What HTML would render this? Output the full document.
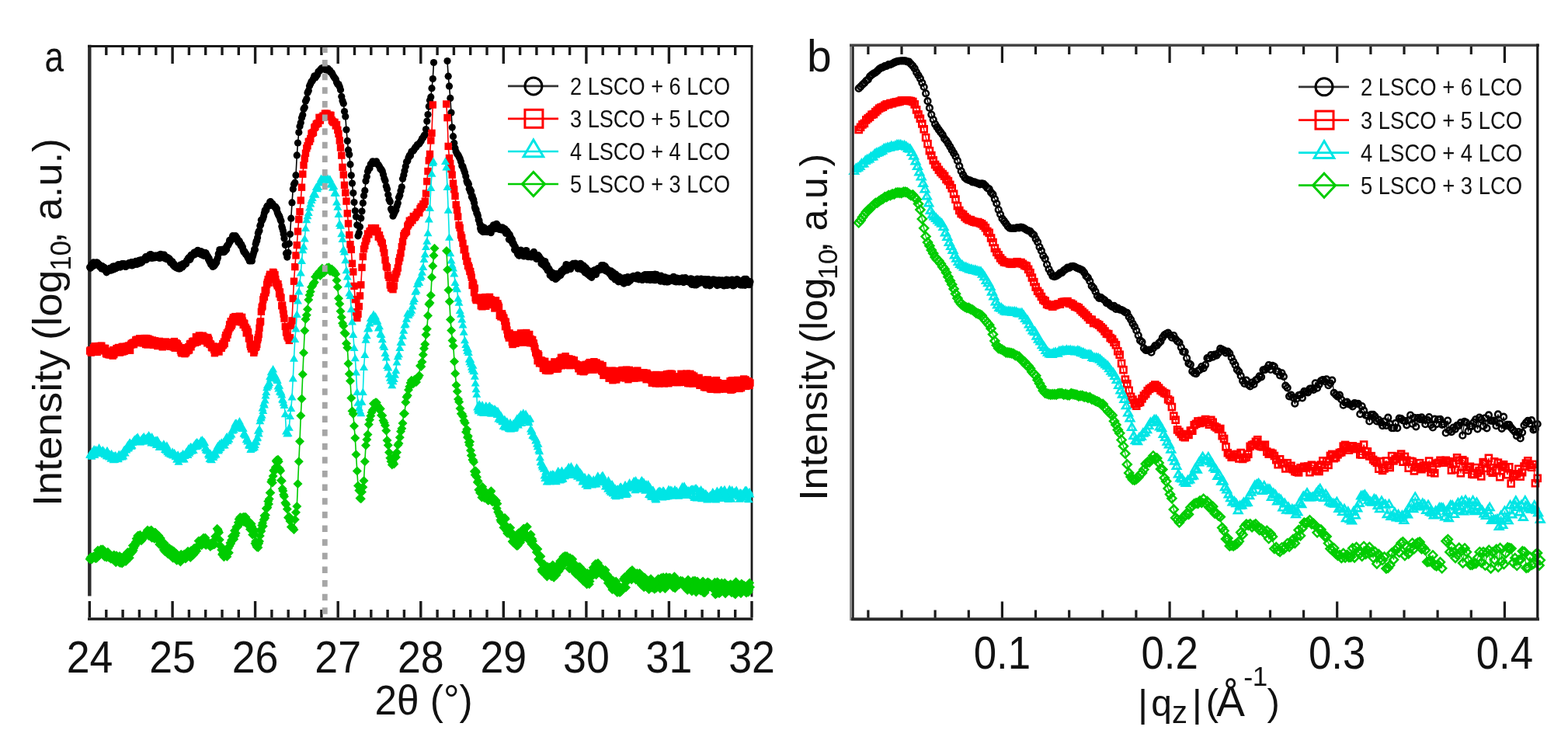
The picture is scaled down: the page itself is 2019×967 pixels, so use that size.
<!DOCTYPE html>
<html><head><meta charset="utf-8"><title>XRD / XRR</title>
<style>
html,body{margin:0;padding:0;background:#fff;}
svg{display:block;}
text{font-family:"Liberation Sans",Arial,sans-serif;fill:#111;}
.ka{fill:none;stroke:#000;stroke-width:1.6;marker-start:url(#mak);marker-mid:url(#mak);marker-end:url(#mak);}
.ra{fill:none;stroke:#f00;stroke-width:1.6;marker-start:url(#mar);marker-mid:url(#mar);marker-end:url(#mar);}
.ca{fill:none;stroke:#00e5e5;stroke-width:1.6;marker-start:url(#mac);marker-mid:url(#mac);marker-end:url(#mac);}
.ga{fill:none;stroke:#00cc00;stroke-width:1.6;marker-start:url(#mag);marker-mid:url(#mag);marker-end:url(#mag);}
.kb{fill:none;stroke:#000;stroke-width:1.2;marker-start:url(#mbk);marker-mid:url(#mbk);marker-end:url(#mbk);}
.rb{fill:none;stroke:#f00;stroke-width:1.2;marker-start:url(#mbr);marker-mid:url(#mbr);marker-end:url(#mbr);}
.cb{fill:none;stroke:#00e5e5;stroke-width:1.2;marker-start:url(#mbc);marker-mid:url(#mbc);marker-end:url(#mbc);}
.gb{fill:none;stroke:#00cc00;stroke-width:1.2;marker-start:url(#mbg);marker-mid:url(#mbg);marker-end:url(#mbg);}
</style></head><body>
<svg width="2019" height="967" viewBox="0 0 2019 967">
<defs>
<marker id="mak" markerUnits="userSpaceOnUse" markerWidth="20" markerHeight="20" refX="10" refY="10" overflow="visible"><circle cx="10" cy="10" r="4.6" fill="#000"/></marker>
<marker id="mar" markerUnits="userSpaceOnUse" markerWidth="20" markerHeight="20" refX="10" refY="10" overflow="visible"><rect x="5.3" y="5.3" width="9.4" height="9.4" fill="#f00"/></marker>
<marker id="mac" markerUnits="userSpaceOnUse" markerWidth="20" markerHeight="20" refX="10" refY="10" overflow="visible"><path d="M10 4.5 L15.5 14 L4.5 14 Z" fill="#00e5e5"/></marker>
<marker id="mag" markerUnits="userSpaceOnUse" markerWidth="20" markerHeight="20" refX="10" refY="10" overflow="visible"><path d="M10 4 L16 10 L10 16 L4 10 Z" fill="#00cc00"/></marker>
<marker id="mbk" markerUnits="userSpaceOnUse" markerWidth="20" markerHeight="20" refX="10" refY="10" overflow="visible"><circle cx="10" cy="10" r="3.8" fill="none" stroke="#000" stroke-width="2.6"/></marker>
<marker id="mbr" markerUnits="userSpaceOnUse" markerWidth="20" markerHeight="20" refX="10" refY="10" overflow="visible"><rect x="6" y="6" width="8" height="8" fill="none" stroke="#f00" stroke-width="2.6"/></marker>
<marker id="mbc" markerUnits="userSpaceOnUse" markerWidth="20" markerHeight="20" refX="10" refY="10" overflow="visible"><path d="M10 5 L15.2 13.8 L4.8 13.8 Z" fill="none" stroke="#00e5e5" stroke-width="2.6"/></marker>
<marker id="mbg" markerUnits="userSpaceOnUse" markerWidth="20" markerHeight="20" refX="10" refY="10" overflow="visible"><path d="M10 4.5 L15.5 10 L10 15.5 L4.5 10 Z" fill="none" stroke="#00cc00" stroke-width="2.5"/></marker>
</defs>
<rect width="2019" height="967" fill="#fff"/>

<g stroke="#1a1a1a" fill="none">
<line x1="115.3" y1="57.8" x2="115.3" y2="767.5" stroke-width="4.4" stroke="#2b2b2b"/>
<line x1="113" y1="59.5" x2="969.4" y2="59.5" stroke-width="3"/>
<line x1="968" y1="58" x2="968" y2="768.4" stroke-width="2.8"/>
<line x1="113" y1="797" x2="969.4" y2="797" stroke-width="3.6"/>
<line x1="115.3" y1="795" x2="115.3" y2="774" stroke-width="3.4"/>
<line x1="136.8" y1="61" x2="136.8" y2="71" stroke-width="3.4"/>
<line x1="136.8" y1="795" x2="136.8" y2="785" stroke-width="3.4"/>
<line x1="158.1" y1="61" x2="158.1" y2="71" stroke-width="3.4"/>
<line x1="158.1" y1="795" x2="158.1" y2="785" stroke-width="3.4"/>
<line x1="179.4" y1="61" x2="179.4" y2="71" stroke-width="3.4"/>
<line x1="179.4" y1="795" x2="179.4" y2="785" stroke-width="3.4"/>
<line x1="200.8" y1="61" x2="200.8" y2="71" stroke-width="3.4"/>
<line x1="200.8" y1="795" x2="200.8" y2="785" stroke-width="3.4"/>
<line x1="222.1" y1="61" x2="222.1" y2="82" stroke-width="3.4"/>
<line x1="222.1" y1="795" x2="222.1" y2="774" stroke-width="3.4"/>
<line x1="243.4" y1="61" x2="243.4" y2="71" stroke-width="3.4"/>
<line x1="243.4" y1="795" x2="243.4" y2="785" stroke-width="3.4"/>
<line x1="264.7" y1="61" x2="264.7" y2="71" stroke-width="3.4"/>
<line x1="264.7" y1="795" x2="264.7" y2="785" stroke-width="3.4"/>
<line x1="286.0" y1="61" x2="286.0" y2="71" stroke-width="3.4"/>
<line x1="286.0" y1="795" x2="286.0" y2="785" stroke-width="3.4"/>
<line x1="307.3" y1="61" x2="307.3" y2="71" stroke-width="3.4"/>
<line x1="307.3" y1="795" x2="307.3" y2="785" stroke-width="3.4"/>
<line x1="328.6" y1="61" x2="328.6" y2="82" stroke-width="3.4"/>
<line x1="328.6" y1="795" x2="328.6" y2="774" stroke-width="3.4"/>
<line x1="349.9" y1="61" x2="349.9" y2="71" stroke-width="3.4"/>
<line x1="349.9" y1="795" x2="349.9" y2="785" stroke-width="3.4"/>
<line x1="371.2" y1="61" x2="371.2" y2="71" stroke-width="3.4"/>
<line x1="371.2" y1="795" x2="371.2" y2="785" stroke-width="3.4"/>
<line x1="392.6" y1="61" x2="392.6" y2="71" stroke-width="3.4"/>
<line x1="392.6" y1="795" x2="392.6" y2="785" stroke-width="3.4"/>
<line x1="413.9" y1="61" x2="413.9" y2="71" stroke-width="3.4"/>
<line x1="413.9" y1="795" x2="413.9" y2="785" stroke-width="3.4"/>
<line x1="435.2" y1="61" x2="435.2" y2="82" stroke-width="3.4"/>
<line x1="435.2" y1="795" x2="435.2" y2="774" stroke-width="3.4"/>
<line x1="456.5" y1="61" x2="456.5" y2="71" stroke-width="3.4"/>
<line x1="456.5" y1="795" x2="456.5" y2="785" stroke-width="3.4"/>
<line x1="477.8" y1="61" x2="477.8" y2="71" stroke-width="3.4"/>
<line x1="477.8" y1="795" x2="477.8" y2="785" stroke-width="3.4"/>
<line x1="499.1" y1="61" x2="499.1" y2="71" stroke-width="3.4"/>
<line x1="499.1" y1="795" x2="499.1" y2="785" stroke-width="3.4"/>
<line x1="520.4" y1="61" x2="520.4" y2="71" stroke-width="3.4"/>
<line x1="520.4" y1="795" x2="520.4" y2="785" stroke-width="3.4"/>
<line x1="541.8" y1="61" x2="541.8" y2="82" stroke-width="3.4"/>
<line x1="541.8" y1="795" x2="541.8" y2="774" stroke-width="3.4"/>
<line x1="563.1" y1="61" x2="563.1" y2="71" stroke-width="3.4"/>
<line x1="563.1" y1="795" x2="563.1" y2="785" stroke-width="3.4"/>
<line x1="584.4" y1="61" x2="584.4" y2="71" stroke-width="3.4"/>
<line x1="584.4" y1="795" x2="584.4" y2="785" stroke-width="3.4"/>
<line x1="605.7" y1="61" x2="605.7" y2="71" stroke-width="3.4"/>
<line x1="605.7" y1="795" x2="605.7" y2="785" stroke-width="3.4"/>
<line x1="627.0" y1="61" x2="627.0" y2="71" stroke-width="3.4"/>
<line x1="627.0" y1="795" x2="627.0" y2="785" stroke-width="3.4"/>
<line x1="648.3" y1="61" x2="648.3" y2="82" stroke-width="3.4"/>
<line x1="648.3" y1="795" x2="648.3" y2="774" stroke-width="3.4"/>
<line x1="669.6" y1="61" x2="669.6" y2="71" stroke-width="3.4"/>
<line x1="669.6" y1="795" x2="669.6" y2="785" stroke-width="3.4"/>
<line x1="690.9" y1="61" x2="690.9" y2="71" stroke-width="3.4"/>
<line x1="690.9" y1="795" x2="690.9" y2="785" stroke-width="3.4"/>
<line x1="712.3" y1="61" x2="712.3" y2="71" stroke-width="3.4"/>
<line x1="712.3" y1="795" x2="712.3" y2="785" stroke-width="3.4"/>
<line x1="733.6" y1="61" x2="733.6" y2="71" stroke-width="3.4"/>
<line x1="733.6" y1="795" x2="733.6" y2="785" stroke-width="3.4"/>
<line x1="754.9" y1="61" x2="754.9" y2="82" stroke-width="3.4"/>
<line x1="754.9" y1="795" x2="754.9" y2="774" stroke-width="3.4"/>
<line x1="776.2" y1="61" x2="776.2" y2="71" stroke-width="3.4"/>
<line x1="776.2" y1="795" x2="776.2" y2="785" stroke-width="3.4"/>
<line x1="797.5" y1="61" x2="797.5" y2="71" stroke-width="3.4"/>
<line x1="797.5" y1="795" x2="797.5" y2="785" stroke-width="3.4"/>
<line x1="818.8" y1="61" x2="818.8" y2="71" stroke-width="3.4"/>
<line x1="818.8" y1="795" x2="818.8" y2="785" stroke-width="3.4"/>
<line x1="840.1" y1="61" x2="840.1" y2="71" stroke-width="3.4"/>
<line x1="840.1" y1="795" x2="840.1" y2="785" stroke-width="3.4"/>
<line x1="861.4" y1="61" x2="861.4" y2="82" stroke-width="3.4"/>
<line x1="861.4" y1="795" x2="861.4" y2="774" stroke-width="3.4"/>
<line x1="882.7" y1="61" x2="882.7" y2="71" stroke-width="3.4"/>
<line x1="882.7" y1="795" x2="882.7" y2="785" stroke-width="3.4"/>
<line x1="904.1" y1="61" x2="904.1" y2="71" stroke-width="3.4"/>
<line x1="904.1" y1="795" x2="904.1" y2="785" stroke-width="3.4"/>
<line x1="925.4" y1="61" x2="925.4" y2="71" stroke-width="3.4"/>
<line x1="925.4" y1="795" x2="925.4" y2="785" stroke-width="3.4"/>
<line x1="946.7" y1="61" x2="946.7" y2="71" stroke-width="3.4"/>
<line x1="946.7" y1="795" x2="946.7" y2="785" stroke-width="3.4"/>
<line x1="968.0" y1="795" x2="968.0" y2="774" stroke-width="3.4"/>
</g>
<polyline class="ka" points="115.6,344.0 116.4,345.3 117.2,343.9 118.0,340.4 118.8,340.3 119.6,342.8 120.4,337.8 121.2,341.7 122.0,341.3 122.8,339.4 123.6,338.4 124.4,338.2 125.2,338.0 126.0,339.2 126.8,339.9 127.6,340.6 128.4,343.6 129.2,343.2 130.0,343.1 130.8,345.9 131.6,342.7 132.4,343.3 133.2,346.5 134.0,344.3 134.8,344.9 135.6,348.0 136.4,348.2 137.2,350.8 138.0,349.4 138.8,348.7 139.6,348.5 140.4,346.9 141.2,345.4 142.0,346.0 142.8,348.2 143.6,345.2 144.4,345.6 145.2,343.2 146.0,347.1 146.8,343.1 147.6,343.2 148.4,346.0 149.2,343.7 150.0,345.1 150.8,343.8 151.6,344.1 152.4,340.5 153.2,342.7 154.0,342.4 154.8,344.1 155.6,341.3 156.4,342.4 157.2,339.5 158.0,341.0 158.8,340.6 159.6,339.6 160.4,342.9 161.2,340.5 162.0,343.5 162.8,341.3 163.6,341.3 164.4,341.3 165.2,341.4 166.0,338.5 166.8,339.8 167.6,338.6 168.4,339.3 169.2,337.5 170.0,341.9 170.8,337.8 171.6,340.0 172.4,337.8 173.2,340.6 174.0,339.3 174.8,336.4 175.6,339.9 176.4,340.2 177.2,339.8 178.0,337.8 178.8,335.4 179.6,335.4 180.4,339.0 181.2,336.7 182.0,334.5 182.8,337.8 183.6,336.1 184.4,335.3 185.2,333.9 186.0,333.6 186.8,332.2 187.6,330.7 188.4,334.6 189.2,332.0 190.0,332.0 190.8,330.4 191.6,332.3 192.4,328.2 193.2,329.7 194.0,327.7 194.8,328.1 195.6,332.4 196.4,330.8 197.2,329.6 198.0,330.1 198.8,331.9 199.6,329.2 200.4,330.5 201.2,331.0 202.0,329.2 202.8,330.1 203.6,331.4 204.4,332.1 205.2,328.2 206.0,332.3 206.8,327.4 207.6,331.3 208.4,331.6 209.2,328.1 210.0,329.7 210.8,332.0 211.6,328.2 212.4,331.8 213.2,333.1 214.0,332.1 214.8,333.8 215.6,331.7 216.4,332.1 217.2,333.5 218.0,333.0 218.8,334.4 219.6,338.2 220.4,337.0 221.2,336.5 222.0,337.0 222.8,341.3 223.6,339.5 224.4,343.1 225.2,341.5 226.0,342.2 226.8,344.8 227.6,344.5 228.4,344.0 229.2,343.5 230.0,346.0 230.8,343.5 231.6,345.9 232.4,341.1 233.2,342.6 234.0,342.5 234.8,344.1 235.6,339.7 236.4,341.9 237.2,340.4 238.0,339.9 238.8,338.7 239.6,339.7 240.4,335.7 241.2,335.4 242.0,333.6 242.8,331.9 243.6,331.8 244.4,334.5 245.2,333.1 246.0,328.3 246.8,329.9 247.6,328.3 248.4,328.0 249.2,327.6 250.0,325.0 250.8,327.8 251.6,324.8 252.4,325.3 253.2,325.2 254.0,322.9 254.8,322.3 255.6,324.2 256.4,326.2 257.2,326.7 258.0,326.4 258.8,323.5 259.6,328.0 260.4,327.7 261.2,328.4 262.0,327.0 262.8,329.4 263.6,325.3 264.4,325.6 265.2,326.1 266.0,328.3 266.8,329.4 267.6,330.5 268.4,334.0 269.2,332.8 270.0,337.2 270.8,336.5 271.6,340.4 272.4,337.9 273.2,340.0 274.0,343.5 274.8,341.3 275.6,342.4 276.4,341.1 277.2,340.2 278.0,337.2 278.8,338.1 279.6,334.0 280.4,331.9 281.2,327.0 282.0,326.0 282.8,321.5 283.6,322.8 284.4,322.5 285.2,321.4 286.0,323.9 286.8,324.7 287.6,322.0 288.4,324.6 289.2,323.9 290.0,319.7 290.8,322.0 291.6,321.3 292.4,316.2 293.2,316.6 294.0,315.3 294.8,313.6 295.6,309.4 296.4,311.0 297.2,309.3 298.0,308.6 298.8,307.1 299.6,303.7 300.4,305.7 301.2,306.6 302.0,307.2 302.8,303.9 303.6,303.9 304.4,307.9 305.2,306.5 306.0,309.2 306.8,312.1 307.6,310.1 308.4,310.7 309.2,313.3 310.0,316.0 310.8,314.8 311.6,317.9 312.4,318.1 313.2,322.2 314.0,324.6 314.8,323.7 315.6,325.2 316.4,327.6 317.2,327.4 318.0,329.0 318.8,330.7 319.6,332.6 320.4,331.6 321.2,335.9 322.0,335.6 322.8,334.5 323.6,333.3 324.4,335.9 325.2,330.7 326.0,328.1 326.8,324.9 327.6,321.0 328.4,321.5 329.2,314.3 330.0,310.8 330.8,310.1 331.6,305.9 332.4,300.3 333.2,298.0 334.0,296.9 334.8,290.8 335.6,289.4 336.4,283.3 337.2,284.2 338.0,282.5 338.8,280.7 339.6,277.9 340.4,274.3 341.2,270.8 342.0,271.3 342.8,270.8 343.6,266.2 344.4,265.0 345.2,265.1 346.0,265.0 346.8,264.8 347.6,260.0 348.4,259.7 349.2,262.6 350.0,261.8 350.8,262.5 351.6,264.5 352.4,265.1 353.2,265.8 354.0,266.8 354.8,266.3 355.6,269.3 356.4,268.7 357.2,273.6 358.0,275.5 358.8,277.3 359.6,277.9 360.4,280.2 361.2,283.2 362.0,284.8 362.8,291.6 363.6,294.0 364.4,297.1 365.2,301.6 366.0,307.1 367.3,315.4 368.5,326.2 369.8,331.1 371.0,325.3 372.3,313.8 373.5,301.6 374.8,281.2 376.0,260.9 377.3,243.4 378.5,237.3 379.8,235.2 381.0,225.7 382.3,199.9 383.5,184.0 384.8,170.5 386.0,162.8 387.3,157.9 388.5,151.8 389.8,147.9 391.0,140.5 392.3,138.3 393.5,130.2 394.8,127.4 396.0,119.6 397.3,116.7 398.5,110.7 399.8,108.1 401.0,105.0 402.3,104.1 403.5,101.2 404.8,97.8 406.0,100.0 407.3,98.0 408.5,96.6 409.8,92.4 411.0,91.8 412.3,90.0 413.5,88.7 414.8,87.5 416.0,88.9 417.3,87.0 418.5,87.1 419.8,90.0 421.0,88.9 422.3,88.3 423.5,91.3 424.8,90.8 426.0,93.2 427.3,93.8 428.5,96.5 429.8,98.8 431.0,100.4 432.3,102.0 433.5,105.9 434.8,108.5 436.0,108.5 437.3,111.7 438.5,115.8 439.8,124.3 441.0,129.7 442.3,133.2 443.5,143.6 444.8,149.9 446.0,167.0 447.3,181.4 448.5,193.2 449.8,199.1 451.0,211.7 452.3,225.8 453.5,236.1 454.8,248.6 456.0,260.5 457.3,271.5 458.5,279.0 459.8,289.8 461.0,303.8 462.3,300.0 463.5,292.0 464.8,280.9 466.0,272.0 467.3,261.4 468.5,252.1 469.8,245.4 471.0,233.1 472.3,227.5 473.5,220.8 474.8,216.8 476.0,216.8 477.3,211.3 478.5,211.0 479.8,207.8 481.0,210.5 482.3,208.4 483.5,209.4 484.8,207.9 486.0,211.2 487.3,212.4 488.5,214.2 489.8,217.7 491.0,217.9 492.3,220.4 493.5,224.8 494.8,229.7 496.0,232.7 497.3,239.7 498.5,243.6 499.8,250.7 501.0,257.1 502.3,259.7 503.5,269.0 504.8,271.6 506.0,278.2 507.3,275.4 508.5,272.8 509.8,270.5 511.0,265.4 512.3,261.5 513.5,254.2 514.8,251.5 516.0,245.8 517.3,240.8 518.5,230.3 519.8,225.4 521.0,219.9 522.3,214.3 523.5,208.4 524.8,207.3 526.0,202.9 527.3,200.1 528.5,200.6 529.8,195.6 531.0,194.6 532.3,193.9 533.5,191.9 534.8,189.7 536.0,189.3 537.3,186.5 538.5,185.8 539.8,185.3 541.0,183.2 542.3,181.4 543.5,178.6 544.8,177.3 546.0,174.7 547.3,173.4 548.5,166.5 549.8,156.1 551.0,147.5 552.3,137.1 553.5,129.3 554.8,124.9 556.0,113.7 557.3,101.5 558.5,80.5"/>
<polyline class="ka" points="576.0,78.5 577.2,98.2 578.5,110.9 579.8,126.4 581.0,145.0 582.2,164.1 583.5,175.7 584.8,184.3 586.0,190.8 587.2,195.2 588.5,197.9 589.8,199.3 591.0,201.8 592.2,204.3 593.5,207.9 594.8,213.6 596.0,214.4 597.2,218.6 598.5,222.1 599.8,227.0 601.0,233.1 601.8,235.5 602.6,235.2 603.4,237.2 604.2,243.3 605.0,243.5 605.8,247.3 606.6,246.0 607.4,253.6 608.2,252.6 609.0,256.4 609.8,257.1 610.6,261.2 611.4,266.8 612.2,269.5 613.0,269.7 613.8,274.6 614.6,275.3 615.4,278.1 616.2,283.1 617.0,284.0 617.8,288.2 618.6,294.1 619.4,296.5 620.2,291.4 621.0,297.5 621.8,298.6 622.6,295.9 623.4,293.0 624.2,298.5 625.0,295.0 625.8,298.5 626.6,296.4 627.4,298.6 628.2,295.5 629.0,297.2 629.8,297.3 630.6,297.8 631.4,293.8 632.2,299.7 633.0,293.4 633.8,293.0 634.6,292.0 635.4,289.8 636.2,292.2 637.0,294.7 637.8,293.7 638.6,289.1 639.4,288.3 640.2,289.8 641.0,293.6 641.8,291.4 642.6,295.3 643.4,293.5 644.2,293.6 645.0,295.4 645.8,295.9 646.6,293.2 647.4,293.2 648.2,295.4 649.0,296.7 649.8,294.6 650.6,297.9 651.4,300.4 652.2,297.0 653.0,297.9 653.8,299.2 654.6,301.2 655.4,308.3 656.2,301.9 657.0,304.7 657.8,306.2 658.6,310.5 659.4,308.3 660.2,313.8 661.0,313.0 661.8,315.5 662.6,321.4 663.4,317.8 664.2,322.7 665.0,322.1 665.8,323.2 666.6,327.3 667.4,322.4 668.2,329.1 669.0,328.9 669.8,327.2 670.6,322.1 671.4,327.3 672.2,326.9 673.0,328.4 673.8,323.7 674.6,330.0 675.4,329.5 676.2,323.0 677.0,324.8 677.8,322.5 678.6,329.2 679.4,330.0 680.2,330.7 681.0,327.6 681.8,328.1 682.6,328.3 683.4,327.5 684.2,330.9 685.0,328.2 685.8,326.2 686.6,328.0 687.4,324.3 688.2,330.7 689.0,330.9 689.8,329.1 690.6,333.3 691.4,333.1 692.2,330.2 693.0,328.7 693.8,329.9 694.6,331.0 695.4,332.7 696.2,334.7 697.0,339.4 697.8,334.7 698.6,340.6 699.4,339.5 700.2,341.8 701.0,338.9 701.8,336.6 702.6,344.3 703.4,340.9 704.2,341.3 705.0,348.1 705.8,348.5 706.6,345.8 707.4,347.5 708.2,354.4 709.0,349.9 709.8,354.6 710.6,350.8 711.4,357.4 712.2,352.2 713.0,356.1 713.8,352.4 714.6,356.9 715.4,359.4 716.2,352.7 717.0,354.0 717.8,357.6 718.6,355.7 719.4,352.5 720.2,354.3 721.0,352.0 721.8,354.6 722.6,348.9 723.4,351.8 724.2,349.9 725.0,349.9 725.8,346.0 726.6,348.2 727.4,347.3 728.2,344.1 729.0,340.6 729.8,348.1 730.6,345.8 731.4,341.4 732.2,345.7 733.0,341.8 733.8,343.3 734.6,346.4 735.4,342.8 736.2,341.4 737.0,341.4 737.8,339.4 738.6,340.5 739.4,340.9 740.2,340.0 741.0,339.0 741.8,342.3 742.6,340.2 743.4,344.6 744.2,346.1 745.0,340.6 745.8,343.1 746.6,342.6 747.4,339.3 748.2,340.1 749.0,346.9 749.8,344.1 750.6,347.5 751.4,342.1 752.2,347.3 753.0,350.4 753.8,351.3 754.6,344.9 755.4,350.0 756.2,349.5 757.0,353.5 757.8,348.4 758.6,350.5 759.4,355.6 760.2,353.0 761.0,353.0 761.8,357.3 762.6,351.7 763.4,349.0 764.2,351.4 765.0,348.9 765.8,347.6 766.6,350.9 767.4,353.4 768.2,349.5 769.0,349.2 769.8,345.7 770.6,347.1 771.4,347.9 772.2,346.0 773.0,347.3 773.8,344.8 774.6,341.6 775.4,344.8 776.2,344.2 777.0,341.7 777.8,345.9 778.6,348.1 779.4,342.9 780.2,347.0 781.0,349.3 781.8,347.3 782.6,346.9 783.4,348.5 784.2,350.7 785.0,352.6 785.8,352.1 786.6,348.8 787.4,355.4 788.2,356.8 789.0,350.6 789.8,352.4 790.6,352.4 791.4,358.7 792.2,359.9 793.0,353.2 793.8,356.3 794.6,355.7 795.4,358.5 796.2,362.8 797.0,356.1 797.8,357.4 798.6,360.4 799.4,361.0 800.2,363.0 801.0,360.6 801.8,358.1 802.6,359.9 803.4,365.1 804.2,363.1 805.0,357.7 805.8,363.5 806.6,359.2 807.4,363.0 808.2,356.5 809.0,363.6 809.8,357.5 810.6,359.8 811.4,361.4 812.2,359.9 813.0,356.9 813.8,356.5 814.6,357.5 815.4,355.4 816.2,356.6 817.0,355.7 817.8,358.3 818.6,357.3 819.4,359.0 820.2,356.3 821.0,354.0 821.8,356.4 822.6,359.8 823.4,355.4 824.2,356.5 825.0,359.3 825.8,356.3 826.6,360.2 827.4,360.4 828.2,355.2 829.0,358.7 829.8,354.5 830.6,353.5 831.4,356.0 832.2,357.4 833.0,360.2 833.8,353.5 834.6,358.3 835.4,356.3 836.2,353.5 837.0,360.6 837.8,358.3 838.6,353.6 839.4,360.2 840.2,353.5 841.0,353.5 841.8,355.6 842.6,360.7 843.4,353.2 844.2,360.7 845.0,358.2 845.8,353.7 846.6,358.1 847.4,357.2 848.2,358.2 849.0,359.8 849.8,359.4 850.6,362.2 851.4,355.2 852.2,360.8 853.0,357.6 853.8,360.8 854.6,361.8 855.4,362.8 856.2,356.8 857.0,358.4 857.8,362.7 858.6,362.8 859.4,358.1 860.2,362.9 861.0,358.5 861.8,358.4 862.6,361.7 863.4,359.3 864.2,359.2 865.0,358.8 865.8,359.3 866.6,356.9 867.4,356.3 868.2,362.2 869.0,360.7 869.8,361.7 870.6,362.9 871.4,358.2 872.2,358.3 873.0,358.7 873.8,359.0 874.6,363.0 875.4,359.8 876.2,359.5 877.0,362.2 877.8,358.5 878.6,357.9 879.4,363.0 880.2,363.6 881.0,359.8 881.8,362.7 882.6,357.7 883.4,360.9 884.2,362.5 885.0,359.8 885.8,360.7 886.6,363.0 887.4,362.9 888.2,359.3 889.0,364.0 889.8,358.8 890.6,366.3 891.4,360.0 892.2,360.5 893.0,360.1 893.8,366.8 894.6,360.9 895.4,363.6 896.2,366.9 897.0,366.6 897.8,359.1 898.6,363.1 899.4,363.9 900.2,364.8 901.0,361.7 901.8,361.7 902.6,359.1 903.4,359.4 904.2,363.8 905.0,359.8 905.8,360.9 906.6,362.1 907.4,359.9 908.2,359.6 909.0,367.2 909.8,363.1 910.6,361.2 911.4,365.5 912.2,359.7 913.0,361.7 913.8,367.8 914.6,367.3 915.4,365.1 916.2,360.6 917.0,362.5 917.8,360.1 918.6,361.7 919.4,360.1 920.2,361.0 921.0,365.3 921.8,360.8 922.6,361.3 923.4,367.6 924.2,362.8 925.0,362.8 925.8,360.7 926.6,366.7 927.4,365.7 928.2,364.6 929.0,365.2 929.8,360.8 930.6,362.2 931.4,364.9 932.2,368.0 933.0,366.8 933.8,365.3 934.6,364.3 935.4,360.1 936.2,367.4 937.0,360.5 937.8,361.0 938.6,365.7 939.4,366.7 940.2,366.5 941.0,363.6 941.8,361.3 942.6,360.1 943.4,366.9 944.2,367.9 945.0,361.8 945.8,367.0 946.6,363.0 947.4,362.2 948.2,363.8 949.0,359.6 949.8,363.2 950.6,361.2 951.4,365.4 952.2,363.6 953.0,366.7 953.8,366.9 954.6,362.0 955.4,361.6 956.2,367.1 957.0,363.4 957.8,359.9 958.6,359.4 959.4,367.3 960.2,363.8 961.0,359.3 961.8,363.1 962.6,363.0 963.4,362.4 964.2,366.6 965.0,366.6 966.0,362.7"/>
<polyline class="ra" points="115.6,452.0 116.4,450.8 117.2,454.1 118.0,452.0 118.8,452.6 119.6,451.0 120.4,447.7 121.2,452.6 122.0,445.7 122.8,451.3 123.6,447.0 124.4,449.2 125.2,453.4 126.0,449.6 126.8,445.6 127.6,448.6 128.4,450.6 129.2,445.5 130.0,447.1 130.8,445.2 131.6,449.7 132.4,448.5 133.2,449.9 134.0,448.5 134.8,451.9 135.6,448.4 136.4,455.0 137.2,456.0 138.0,452.6 138.8,452.8 139.6,456.6 140.4,452.2 141.2,456.9 142.0,452.8 142.8,456.6 143.6,453.4 144.4,455.6 145.2,458.1 146.0,450.6 146.8,456.6 147.6,454.0 148.4,452.2 149.2,451.5 150.0,448.7 150.8,449.8 151.6,452.4 152.4,447.5 153.2,451.8 154.0,453.9 154.8,453.7 155.6,452.7 156.4,451.8 157.2,446.4 158.0,453.0 158.8,446.4 159.6,452.0 160.4,452.0 161.2,449.8 162.0,448.9 162.8,446.1 163.6,448.8 164.4,446.7 165.2,445.3 166.0,445.2 166.8,450.6 167.6,451.2 168.4,444.0 169.2,442.3 170.0,443.6 170.8,441.6 171.6,441.2 172.4,443.6 173.2,441.3 174.0,440.5 174.8,437.8 175.6,440.9 176.4,437.2 177.2,437.6 178.0,437.8 178.8,441.4 179.6,435.9 180.4,439.9 181.2,436.5 182.0,441.5 182.8,437.5 183.6,438.5 184.4,441.8 185.2,440.3 186.0,435.6 186.8,436.2 187.6,443.5 188.4,435.6 189.2,438.1 190.0,443.9 190.8,436.1 191.6,437.5 192.4,438.1 193.2,437.2 194.0,440.6 194.8,441.7 195.6,439.6 196.4,438.0 197.2,444.0 198.0,444.1 198.8,442.3 199.6,438.8 200.4,442.4 201.2,443.3 202.0,441.7 202.8,445.5 203.6,441.6 204.4,442.7 205.2,439.4 206.0,443.2 206.8,444.9 207.6,444.6 208.4,440.7 209.2,446.8 210.0,444.5 210.8,442.1 211.6,442.0 212.4,445.0 213.2,440.0 214.0,443.9 214.8,444.5 215.6,442.8 216.4,445.8 217.2,442.4 218.0,442.4 218.8,440.9 219.6,446.2 220.4,441.2 221.2,444.3 222.0,441.9 222.8,446.5 223.6,446.9 224.4,439.6 225.2,448.2 226.0,445.5 226.8,441.6 227.6,445.9 228.4,442.9 229.2,447.8 230.0,445.5 230.8,447.8 231.6,447.9 232.4,451.1 233.2,453.5 234.0,454.9 234.8,450.2 235.6,452.5 236.4,447.8 237.2,450.9 238.0,455.6 238.8,448.3 239.6,454.1 240.4,451.8 241.2,448.1 242.0,451.5 242.8,446.6 243.6,450.8 244.4,443.1 245.2,442.4 246.0,446.8 246.8,443.3 247.6,439.8 248.4,441.9 249.2,439.1 250.0,440.3 250.8,441.1 251.6,441.3 252.4,433.8 253.2,437.7 254.0,440.4 254.8,435.5 255.6,437.8 256.4,432.0 257.2,438.4 258.0,436.0 258.8,438.7 259.6,437.9 260.4,438.8 261.2,432.2 262.0,438.0 262.8,433.9 263.6,434.8 264.4,435.6 265.2,438.2 266.0,438.9 266.8,441.8 267.6,434.5 268.4,436.5 269.2,438.6 270.0,443.4 270.8,442.5 271.6,443.6 272.4,447.2 273.2,447.9 274.0,446.4 274.8,446.0 275.6,450.3 276.4,454.7 277.2,452.8 278.0,448.2 278.8,451.3 279.6,450.4 280.4,451.5 281.2,450.8 282.0,453.0 282.8,446.9 283.6,446.4 284.4,447.1 285.2,448.3 286.0,445.6 286.8,442.6 287.6,444.3 288.4,440.1 289.2,442.5 290.0,434.9 290.8,431.6 291.6,435.3 292.4,428.6 293.2,431.0 294.0,426.7 294.8,423.6 295.6,417.9 296.4,421.7 297.2,413.8 298.0,419.6 298.8,417.3 299.6,411.2 300.4,408.8 301.2,414.5 302.0,410.8 302.8,407.6 303.6,410.6 304.4,408.3 305.2,409.6 306.0,411.4 306.8,413.6 307.6,412.6 308.4,407.2 309.2,409.8 310.0,410.1 310.8,414.9 311.6,408.4 312.4,413.3 313.2,418.4 314.0,415.9 314.8,416.8 315.6,421.4 316.4,421.6 317.2,428.9 318.0,423.9 318.8,426.8 319.6,428.1 320.4,436.0 321.2,435.4 322.0,443.5 322.8,446.3 323.6,449.3 324.4,445.8 325.2,445.3 326.0,449.4 326.8,454.3 327.6,451.7 328.4,444.2 329.2,447.3 330.0,446.2 330.8,443.3 331.6,437.5 332.4,434.8 333.2,430.5 334.0,422.3 334.8,415.3 335.6,413.9 336.4,401.3 337.2,395.7 338.0,394.1 338.8,385.8 339.6,382.2 340.4,382.6 341.2,373.9 342.0,377.0 342.8,373.5 343.6,366.3 344.4,363.5 345.2,359.6 346.0,364.2 346.8,356.3 347.6,353.3 348.4,359.5 349.2,356.1 350.0,356.0 350.8,356.2 351.6,350.4 352.4,351.5 353.2,356.0 354.0,353.8 354.8,359.6 355.6,363.8 356.4,365.6 357.2,367.9 358.0,365.7 358.8,370.0 359.6,378.4 360.4,375.9 361.2,382.4 362.0,383.3 362.8,393.7 363.6,393.0 364.4,399.0 365.2,404.2 366.0,410.1 367.3,420.4 368.5,428.0 369.8,432.8 371.0,435.0 372.3,438.4 373.5,434.8 374.8,419.4 376.0,412.9 377.3,384.4 378.5,362.2 379.8,343.6 381.0,328.9 382.3,315.6 383.5,298.0 384.8,282.5 386.0,272.6 387.3,258.0 388.5,241.2 389.8,224.2 391.0,212.8 392.3,204.1 393.5,197.3 394.8,190.9 396.0,187.8 397.3,182.4 398.5,182.1 399.8,178.6 401.0,172.1 402.3,171.2 403.5,170.5 404.8,164.3 406.0,163.1 407.3,159.9 408.5,158.9 409.8,158.8 411.0,151.3 412.3,155.1 413.5,151.5 414.8,151.1 416.0,149.1 417.3,150.0 418.5,146.1 419.8,148.8 421.0,146.2 422.3,148.4 423.5,150.4 424.8,148.2 426.0,148.5 427.3,154.9 428.5,156.7 429.8,157.6 431.0,157.4 432.3,161.9 433.5,160.5 434.8,167.3 436.0,172.3 437.3,181.0 438.5,190.1 439.8,200.1 441.0,215.3 442.3,225.0 443.5,238.3 444.8,248.1 446.0,259.1 447.3,274.8 448.5,287.9 449.8,302.5 451.0,314.7 452.3,321.4 453.5,339.3 454.8,350.0 456.0,368.4 457.3,385.6 458.5,401.8 459.8,409.5 461.0,404.4 462.3,394.6 463.5,380.9 464.8,366.8 466.0,344.4 467.3,330.5 468.5,320.7 469.8,316.3 471.0,310.5 472.3,307.4 473.5,301.0 474.8,301.9 476.0,297.9 477.3,297.2 478.5,293.6 479.8,296.5 481.0,297.7 482.3,294.3 483.5,293.6 484.8,298.7 486.0,297.5 487.3,305.2 488.5,302.8 489.8,307.4 491.0,311.4 492.3,313.1 493.5,319.8 494.8,325.5 496.0,334.8 497.3,342.9 498.5,344.6 499.8,354.2 501.0,357.3 502.3,367.0 503.5,370.7 504.8,371.0 506.0,372.7 507.3,368.0 508.5,358.3 509.8,352.9 511.0,349.9 512.3,345.0 513.5,336.6 514.8,331.9 516.0,325.9 517.3,317.7 518.5,311.1 519.8,303.4 521.0,300.7 522.3,299.0 523.5,298.0 524.8,291.0 526.0,289.0 527.3,284.2 528.5,286.6 529.8,283.0 531.0,283.7 532.3,278.5 533.5,280.1 534.8,279.0 536.0,276.5 537.3,273.4 538.5,273.4 539.8,274.0 541.0,268.6 542.3,266.2 543.5,266.7 544.8,262.7 546.0,263.2 547.3,259.1 548.5,249.1 549.8,233.6 551.0,220.5 552.3,206.8 553.5,198.4 554.8,180.9 556.0,171.3 557.3,135.0"/>
<polyline class="ra" points="574.7,134.0 576.0,151.6 577.2,188.4 578.5,203.5 579.7,210.5 581.0,217.5 582.2,225.2 583.5,236.1 584.7,243.8 586.0,252.5 587.2,263.6 588.5,270.6 589.7,279.0 591.0,289.8 592.2,293.3 593.5,302.7 594.7,306.0 596.0,313.3 597.2,321.8 598.5,320.6 599.7,329.9 601.0,336.4 601.8,336.5 602.5,342.4 603.3,342.4 604.1,344.8 604.9,349.4 605.7,349.6 606.5,353.9 607.3,357.2 608.1,367.5 608.9,364.0 609.7,366.0 610.5,376.7 611.3,371.1 612.1,383.7 612.9,385.9 613.7,386.6 614.5,386.2 615.3,384.4 616.1,383.3 616.9,383.3 617.7,386.4 618.5,387.1 619.3,393.8 620.1,388.9 620.9,394.8 621.7,391.3 622.5,383.9 623.3,389.2 624.1,384.1 624.9,382.6 625.7,394.3 626.5,386.5 627.3,384.6 628.1,383.4 628.9,390.6 629.7,388.2 630.5,382.4 631.3,391.6 632.1,385.7 632.9,392.5 633.7,388.8 634.5,389.5 635.3,388.8 636.1,392.2 636.9,397.0 637.7,395.3 638.5,386.8 639.3,393.4 640.1,391.3 640.9,390.9 641.7,393.4 642.5,395.6 643.3,406.3 644.1,405.0 644.9,407.9 645.7,407.3 646.5,403.8 647.3,406.4 648.1,409.0 648.9,409.4 649.7,413.5 650.5,420.7 651.3,414.3 652.1,419.6 652.9,424.9 653.7,430.0 654.5,432.0 655.3,435.1 656.1,428.9 656.9,431.4 657.7,434.0 658.5,434.2 659.3,440.4 660.1,443.5 660.9,439.4 661.7,430.9 662.5,434.2 663.3,440.7 664.1,442.2 664.9,437.7 665.7,434.4 666.5,434.3 667.3,437.8 668.1,440.6 668.9,433.7 669.7,431.5 670.5,428.9 671.3,430.5 672.1,439.6 672.9,436.5 673.7,441.1 674.5,429.0 675.3,432.7 676.1,438.2 676.9,436.3 677.7,428.5 678.5,432.8 679.3,435.8 680.1,436.4 680.9,433.4 681.7,430.5 682.5,441.6 683.3,436.5 684.1,441.5 684.9,441.1 685.7,437.4 686.5,441.8 687.3,442.0 688.1,446.2 688.9,448.7 689.7,453.8 690.5,454.8 691.3,457.2 692.1,464.7 692.9,455.6 693.7,457.7 694.5,467.9 695.3,465.3 696.1,465.0 696.9,463.8 697.7,468.3 698.5,465.0 699.3,474.1 700.1,474.4 700.9,468.5 701.7,465.3 702.5,477.0 703.3,469.7 704.1,474.6 704.9,477.4 705.7,476.7 706.5,477.5 707.3,472.5 708.1,477.0 708.9,471.9 709.7,469.1 710.5,471.7 711.3,469.6 712.1,474.9 712.9,475.4 713.7,466.1 714.5,466.1 715.3,468.6 716.1,469.2 716.9,475.3 717.7,474.7 718.5,474.7 719.3,471.2 720.1,470.2 720.9,464.5 721.7,465.5 722.5,460.3 723.3,470.8 724.1,463.3 724.9,460.5 725.7,463.3 726.5,463.2 727.3,468.2 728.1,458.7 728.9,461.6 729.7,470.2 730.5,469.6 731.3,466.8 732.1,466.0 732.9,461.9 733.7,470.7 734.5,469.6 735.3,466.9 736.1,462.8 736.9,464.0 737.7,466.7 738.5,466.7 739.3,463.8 740.1,468.8 740.9,470.0 741.7,468.5 742.5,470.3 743.3,470.1 744.1,471.2 744.9,474.8 745.7,473.6 746.5,470.0 747.3,478.0 748.1,474.4 748.9,473.8 749.7,477.1 750.5,477.5 751.3,478.7 752.1,478.2 752.9,476.2 753.7,476.8 754.5,469.3 755.3,476.2 756.1,470.3 756.9,470.2 757.7,468.2 758.5,471.7 759.3,466.6 760.1,474.7 760.9,475.7 761.7,475.9 762.5,467.3 763.3,473.8 764.1,476.3 764.9,465.7 765.7,467.6 766.5,468.5 767.3,470.9 768.1,467.0 768.9,471.8 769.7,469.2 770.5,473.2 771.3,471.7 772.1,474.2 772.9,469.1 773.7,475.9 774.5,477.2 775.3,478.2 776.1,470.8 776.9,483.4 777.7,479.8 778.5,477.0 779.3,480.2 780.1,482.2 780.9,482.9 781.7,480.0 782.5,480.5 783.3,481.8 784.1,487.2 784.9,482.8 785.7,477.6 786.5,482.9 787.3,479.7 788.1,477.2 788.9,489.7 789.7,480.8 790.5,483.9 791.3,481.5 792.1,477.5 792.9,488.5 793.7,488.9 794.5,479.1 795.3,482.1 796.1,481.5 796.9,478.7 797.7,485.1 798.5,486.6 799.3,486.3 800.1,485.1 800.9,476.5 801.7,479.2 802.5,482.9 803.3,485.3 804.1,481.1 804.9,481.9 805.7,486.9 806.5,476.2 807.3,479.4 808.1,479.6 808.9,488.7 809.7,478.7 810.5,476.4 811.3,481.1 812.1,484.1 812.9,477.7 813.7,486.6 814.5,478.2 815.3,484.8 816.1,477.7 816.9,487.1 817.7,478.2 818.5,485.1 819.3,486.6 820.1,479.1 820.9,477.1 821.7,483.6 822.5,482.6 823.3,482.5 824.1,486.6 824.9,482.6 825.7,483.2 826.5,483.3 827.3,483.1 828.1,482.7 828.9,479.7 829.7,481.7 830.5,481.5 831.3,481.6 832.1,488.7 832.9,480.3 833.7,481.7 834.5,486.1 835.3,483.6 836.1,482.9 836.9,484.8 837.7,486.7 838.5,489.2 839.3,493.2 840.1,491.9 840.9,486.6 841.7,487.0 842.5,486.7 843.3,484.5 844.1,493.9 844.9,482.5 845.7,484.4 846.5,490.4 847.3,489.5 848.1,485.4 848.9,494.0 849.7,487.1 850.5,489.5 851.3,482.9 852.1,493.3 852.9,483.0 853.7,486.8 854.5,493.1 855.3,493.9 856.1,493.3 856.9,492.2 857.7,484.5 858.5,481.8 859.3,487.2 860.1,482.1 860.9,493.7 861.7,481.3 862.5,485.3 863.3,483.7 864.1,481.1 864.9,487.4 865.7,481.8 866.5,492.5 867.3,489.7 868.1,485.5 868.9,491.5 869.7,490.9 870.5,484.7 871.3,491.5 872.1,492.5 872.9,488.4 873.7,484.9 874.5,492.0 875.3,492.5 876.1,484.8 876.9,481.3 877.7,491.5 878.5,488.8 879.3,483.2 880.1,487.6 880.9,484.2 881.7,492.2 882.5,484.8 883.3,483.0 884.1,481.1 884.9,485.0 885.7,493.6 886.5,483.7 887.3,486.9 888.1,493.7 888.9,481.3 889.7,485.3 890.5,492.3 891.3,483.0 892.1,494.0 892.9,493.0 893.7,484.2 894.5,490.3 895.3,490.0 896.1,492.0 896.9,487.2 897.7,488.5 898.5,486.8 899.3,487.7 900.1,486.4 900.9,496.2 901.7,496.2 902.5,489.6 903.3,494.1 904.1,491.7 904.9,489.2 905.7,490.4 906.5,498.6 907.3,490.7 908.1,494.0 908.9,499.0 909.7,490.8 910.5,497.7 911.3,488.9 912.1,497.1 912.9,498.3 913.7,498.9 914.5,500.8 915.3,497.6 916.1,501.2 916.9,492.3 917.7,495.6 918.5,491.7 919.3,490.1 920.1,494.8 920.9,498.6 921.7,499.4 922.5,489.6 923.3,501.7 924.1,492.7 924.9,493.3 925.7,500.3 926.5,501.1 927.3,499.1 928.1,493.8 928.9,495.5 929.7,500.3 930.5,494.1 931.3,499.9 932.1,499.6 932.9,495.6 933.7,501.1 934.5,494.4 935.3,499.2 936.1,497.7 936.9,493.7 937.7,496.3 938.5,497.2 939.3,496.3 940.1,490.7 940.9,502.1 941.7,501.8 942.5,489.7 943.3,501.4 944.1,496.0 944.9,490.7 945.7,499.7 946.5,494.6 947.3,498.2 948.1,499.6 948.9,495.8 949.7,489.4 950.5,499.4 951.3,497.6 952.1,500.4 952.9,492.0 953.7,498.6 954.5,499.6 955.3,492.8 956.1,493.4 956.9,492.3 957.7,488.0 958.5,490.8 959.3,492.0 960.1,488.9 960.9,497.4 961.7,492.8 962.5,494.5 963.3,490.7 964.1,491.5 964.9,496.5 966.0,493.0"/>
<polyline class="ca" points="115.6,586.0 116.4,584.6 117.2,585.2 118.0,587.7 118.8,581.5 119.6,583.2 120.4,584.3 121.2,578.5 122.0,586.0 122.8,581.5 123.6,578.9 124.4,583.2 125.2,583.5 126.0,581.7 126.8,584.1 127.6,576.5 128.4,580.4 129.2,582.2 130.0,583.8 130.8,581.3 131.6,581.0 132.4,579.4 133.2,581.3 134.0,581.6 134.8,585.3 135.6,585.2 136.4,585.0 137.2,587.3 138.0,580.3 138.8,587.3 139.6,585.2 140.4,588.5 141.2,585.0 142.0,587.1 142.8,590.8 143.6,584.2 144.4,586.8 145.2,588.8 146.0,592.2 146.8,587.0 147.6,591.9 148.4,586.6 149.2,587.0 150.0,589.0 150.8,589.6 151.6,591.3 152.4,591.0 153.2,584.9 154.0,589.0 154.8,587.6 155.6,584.9 156.4,587.9 157.2,588.5 158.0,584.3 158.8,587.6 159.6,579.7 160.4,579.1 161.2,583.5 162.0,578.2 162.8,579.6 163.6,577.6 164.4,573.2 165.2,577.5 166.0,576.3 166.8,569.9 167.6,570.1 168.4,574.2 169.2,574.7 170.0,573.8 170.8,570.0 171.6,568.3 172.4,568.6 173.2,565.7 174.0,568.2 174.8,565.4 175.6,564.3 176.4,565.9 177.2,562.7 178.0,566.0 178.8,567.7 179.6,567.0 180.4,569.6 181.2,568.6 182.0,566.1 182.8,568.2 183.6,564.0 184.4,567.0 185.2,562.3 186.0,564.4 186.8,568.4 187.6,565.0 188.4,564.2 189.2,566.9 190.0,562.8 190.8,567.7 191.6,560.6 192.4,562.9 193.2,562.8 194.0,563.9 194.8,570.5 195.6,562.6 196.4,565.5 197.2,568.4 198.0,570.0 198.8,571.1 199.6,568.0 200.4,567.0 201.2,573.1 202.0,566.9 202.8,566.8 203.6,568.7 204.4,571.5 205.2,576.0 206.0,574.5 206.8,573.5 207.6,573.6 208.4,575.6 209.2,575.5 210.0,573.4 210.8,571.7 211.6,573.1 212.4,578.9 213.2,578.1 214.0,580.1 214.8,573.8 215.6,582.1 216.4,578.1 217.2,583.7 218.0,581.5 218.8,581.9 219.6,585.1 220.4,584.2 221.2,585.5 222.0,581.7 222.8,586.5 223.6,585.1 224.4,583.3 225.2,584.5 226.0,588.2 226.8,586.8 227.6,591.8 228.4,586.4 229.2,585.7 230.0,594.7 230.8,588.6 231.6,590.3 232.4,587.4 233.2,587.1 234.0,588.5 234.8,591.5 235.6,584.2 236.4,590.8 237.2,591.6 238.0,587.0 238.8,584.5 239.6,582.6 240.4,581.4 241.2,581.9 242.0,585.9 242.8,577.5 243.6,583.8 244.4,582.0 245.2,575.5 246.0,575.4 246.8,580.8 247.6,579.6 248.4,575.8 249.2,580.0 250.0,573.5 250.8,574.7 251.6,571.2 252.4,575.3 253.2,569.5 254.0,569.7 254.8,574.4 255.6,571.4 256.4,572.4 257.2,572.6 258.0,571.2 258.8,567.2 259.6,571.6 260.4,566.4 261.2,568.2 262.0,570.7 262.8,568.9 263.6,570.3 264.4,577.0 265.2,579.6 266.0,578.2 266.8,580.3 267.6,580.4 268.4,584.9 269.2,586.8 270.0,591.0 270.8,583.7 271.6,591.7 272.4,592.3 273.2,586.1 274.0,588.9 274.8,589.1 275.6,586.7 276.4,582.4 277.2,584.3 278.0,585.5 278.8,577.4 279.6,579.6 280.4,574.3 281.2,580.6 282.0,579.0 282.8,571.5 283.6,577.0 284.4,575.7 285.2,569.8 286.0,572.6 286.8,573.4 287.6,569.4 288.4,570.1 289.2,573.6 290.0,569.7 290.8,567.7 291.6,562.9 292.4,562.5 293.2,568.1 294.0,566.0 294.8,565.6 295.6,562.0 296.4,560.7 297.2,558.9 298.0,559.4 298.8,554.3 299.6,554.5 300.4,552.9 301.2,553.4 302.0,548.2 302.8,545.4 303.6,544.9 304.4,544.9 305.2,550.3 306.0,548.4 306.8,548.4 307.6,545.4 308.4,542.4 309.2,546.3 310.0,551.0 310.8,549.2 311.6,552.0 312.4,551.7 313.2,551.7 314.0,558.2 314.8,559.0 315.6,559.7 316.4,560.7 317.2,566.2 318.0,564.4 318.8,568.5 319.6,567.5 320.4,573.6 321.2,571.8 322.0,574.0 322.8,578.9 323.6,577.4 324.4,577.5 325.2,573.4 326.0,577.0 326.8,571.7 327.6,575.7 328.4,573.1 329.2,569.2 330.0,568.8 330.8,564.2 331.6,563.4 332.4,554.7 333.2,558.6 334.0,552.6 334.8,542.2 335.6,538.6 336.4,537.2 337.2,534.8 338.0,525.5 338.8,528.9 339.6,519.4 340.4,521.4 341.2,515.4 342.0,509.4 342.8,504.9 343.6,499.3 344.4,496.0 345.2,497.4 346.0,495.2 346.8,493.0 347.6,485.0 348.4,487.3 349.2,479.3 350.0,483.4 350.8,482.3 351.6,475.4 352.4,482.3 353.2,482.0 354.0,483.6 354.8,486.8 355.6,486.3 356.4,488.6 357.2,490.1 358.0,497.4 358.8,500.6 359.6,496.8 360.4,504.6 361.2,503.7 362.0,505.6 362.8,508.5 363.6,514.2 364.4,515.3 365.2,518.8 366.0,522.1 367.3,533.2 368.5,555.6 369.8,558.4 371.0,557.9 372.3,550.8 373.5,536.1 374.8,525.9 376.0,511.4 377.3,487.4 378.5,461.7 379.8,436.9 381.0,423.5 382.3,404.9 383.5,387.6 384.8,375.5 386.0,365.0 387.3,351.6 388.5,335.9 389.8,322.2 391.0,317.5 392.3,307.5 393.5,294.1 394.8,283.2 396.0,278.3 397.3,273.9 398.5,267.6 399.8,262.5 401.0,258.0 402.3,255.1 403.5,250.3 404.8,248.8 406.0,250.8 407.3,241.0 408.5,243.3 409.8,241.0 411.0,235.6 412.3,234.7 413.5,230.0 414.8,231.5 416.0,230.5 417.3,229.9 418.5,227.8 419.8,231.5 421.0,231.3 422.3,230.1 423.5,232.2 424.8,230.8 426.0,237.5 427.3,237.5 428.5,241.7 429.8,239.9 431.0,248.8 432.3,249.1 433.5,260.6 434.8,266.7 436.0,275.9 437.3,287.9 438.5,290.8 439.8,301.2 441.0,308.1 442.3,321.3 443.5,324.5 444.8,335.3 446.0,348.2 447.3,356.5 448.5,365.9 449.8,377.5 451.0,381.1 452.3,398.3 453.5,414.4 454.8,431.1 456.0,448.0 457.3,461.2 458.5,479.6 459.8,505.0 461.0,518.8 462.3,524.9 463.5,528.9 464.8,532.3 466.0,517.7 467.3,505.0 468.5,473.0 469.8,456.9 471.0,437.7 472.3,432.3 473.5,423.4 474.8,422.8 476.0,416.4 477.3,410.1 478.5,412.3 479.8,408.3 481.0,405.0 482.3,409.3 483.5,407.6 484.8,414.4 486.0,413.4 487.3,422.5 488.5,420.3 489.8,429.7 491.0,430.9 492.3,437.2 493.5,444.8 494.8,447.1 496.0,455.0 497.3,460.6 498.5,470.9 499.8,473.5 501.0,482.1 502.3,486.8 503.5,490.2 504.8,496.3 506.0,491.2 507.3,488.1 508.5,482.8 509.8,477.2 511.0,466.5 512.3,459.2 513.5,456.3 514.8,448.1 516.0,440.7 517.3,441.0 518.5,432.8 519.8,425.7 521.0,418.4 522.3,417.5 523.5,410.7 524.8,403.7 526.0,406.1 527.3,403.8 528.5,402.2 529.8,399.8 531.0,394.6 532.3,388.2 533.5,385.1 534.8,375.8 536.0,374.0 537.3,366.1 538.5,362.3 539.8,364.1 541.0,357.8 542.3,356.0 543.5,350.8 544.8,343.9 546.0,334.1 547.3,327.5 548.5,317.9 549.8,310.7 551.0,300.2 552.3,282.5 553.5,268.0 554.8,242.0 556.0,223.7 557.3,210.1 558.0,208.0"/>
<polyline class="ca" points="573.5,208.0 574.8,215.5 576.0,241.1 577.2,270.8 578.5,305.8 579.8,326.3 581.0,335.4 582.2,341.4 583.5,345.6 584.8,352.4 586.0,364.0 587.2,369.9 588.5,372.2 589.8,384.5 591.0,389.8 592.2,399.9 593.5,404.7 594.8,411.5 596.0,418.5 597.2,427.8 598.5,438.2 599.8,444.1 601.0,448.1 601.8,451.9 602.6,449.6 603.4,454.1 604.2,462.4 605.0,466.2 605.8,463.1 606.6,468.8 607.4,472.8 608.2,475.8 609.0,470.7 609.8,477.7 610.6,478.2 611.4,484.7 612.2,493.4 613.0,501.3 613.8,507.8 614.6,524.5 615.4,527.2 616.2,529.3 617.0,520.6 617.8,521.8 618.6,526.6 619.4,531.3 620.2,525.2 621.0,521.5 621.8,526.9 622.6,531.9 623.4,530.8 624.2,531.2 625.0,524.6 625.8,522.6 626.6,531.0 627.4,529.9 628.2,530.8 629.0,524.6 629.8,523.3 630.6,522.8 631.4,531.5 632.2,532.4 633.0,525.3 633.8,532.6 634.6,526.5 635.4,528.0 636.2,530.3 637.0,526.4 637.8,527.9 638.6,528.7 639.4,529.6 640.2,534.0 641.0,529.3 641.8,539.6 642.6,532.4 643.4,537.0 644.2,540.7 645.0,534.9 645.8,539.5 646.6,542.6 647.4,543.3 648.2,548.9 649.0,548.2 649.8,539.9 650.6,550.3 651.4,547.1 652.2,549.4 653.0,542.8 653.8,547.3 654.6,550.7 655.4,552.1 656.2,552.2 657.0,544.2 657.8,552.4 658.6,548.5 659.4,549.6 660.2,551.7 661.0,545.2 661.8,551.8 662.6,550.7 663.4,549.2 664.2,542.8 665.0,544.3 665.8,538.8 666.6,546.2 667.4,547.4 668.2,536.9 669.0,544.2 669.8,543.0 670.6,533.5 671.4,545.0 672.2,538.5 673.0,535.3 673.8,531.7 674.6,541.6 675.4,535.3 676.2,537.5 677.0,533.1 677.8,538.7 678.6,536.2 679.4,542.6 680.2,541.9 681.0,544.2 681.8,539.7 682.6,539.2 683.4,552.6 684.2,555.8 685.0,554.4 685.8,560.8 686.6,560.5 687.4,561.8 688.2,561.8 689.0,563.4 689.8,567.5 690.6,566.1 691.4,571.4 692.2,575.2 693.0,571.7 693.8,579.6 694.6,581.3 695.4,589.3 696.2,594.9 697.0,595.4 697.8,599.2 698.6,601.5 699.4,599.5 700.2,603.7 701.0,612.5 701.8,616.0 702.6,607.4 703.4,606.5 704.2,620.4 705.0,619.6 705.8,616.3 706.6,619.1 707.4,616.0 708.2,620.2 709.0,611.1 709.8,613.8 710.6,616.8 711.4,610.5 712.2,617.2 713.0,610.9 713.8,616.8 714.6,618.0 715.4,612.7 716.2,620.2 717.0,615.1 717.8,616.7 718.6,606.5 719.4,607.6 720.2,615.5 721.0,618.5 721.8,614.0 722.6,617.7 723.4,605.9 724.2,617.0 725.0,616.6 725.8,612.9 726.6,609.9 727.4,613.3 728.2,606.6 729.0,612.0 729.8,611.9 730.6,609.4 731.4,605.1 732.2,601.2 733.0,603.4 733.8,611.7 734.6,602.8 735.4,600.6 736.2,602.7 737.0,606.1 737.8,606.9 738.6,610.7 739.4,610.3 740.2,611.9 741.0,611.0 741.8,605.6 742.6,602.0 743.4,613.8 744.2,604.8 745.0,611.0 745.8,607.2 746.6,615.8 747.4,608.4 748.2,612.5 749.0,610.8 749.8,620.5 750.6,618.2 751.4,619.2 752.2,615.6 753.0,614.3 753.8,624.0 754.6,623.0 755.4,622.6 756.2,626.1 757.0,620.2 757.8,614.9 758.6,620.8 759.4,616.3 760.2,619.3 761.0,618.5 761.8,619.8 762.6,624.6 763.4,623.0 764.2,617.5 765.0,622.9 765.8,623.4 766.6,622.1 767.4,619.0 768.2,623.6 769.0,618.0 769.8,612.7 770.6,614.9 771.4,620.1 772.2,616.3 773.0,616.9 773.8,616.6 774.6,613.8 775.4,612.6 776.2,612.3 777.0,621.2 777.8,617.0 778.6,619.3 779.4,626.5 780.2,623.0 781.0,626.2 781.8,626.3 782.6,629.8 783.4,618.5 784.2,623.7 785.0,632.2 785.8,626.5 786.6,633.9 787.4,624.3 788.2,623.4 789.0,635.5 789.8,629.6 790.6,631.6 791.4,637.9 792.2,628.7 793.0,639.2 793.8,631.8 794.6,629.9 795.4,629.8 796.2,633.6 797.0,632.9 797.8,638.5 798.6,627.0 799.4,626.7 800.2,627.9 801.0,633.9 801.8,636.0 802.6,631.6 803.4,633.1 804.2,633.1 805.0,624.3 805.8,627.0 806.6,636.9 807.4,627.4 808.2,635.4 809.0,628.8 809.8,624.8 810.6,621.4 811.4,623.9 812.2,624.9 813.0,626.1 813.8,625.9 814.6,626.9 815.4,625.6 816.2,619.2 817.0,622.1 817.8,631.3 818.6,618.4 819.4,627.8 820.2,624.1 821.0,627.1 821.8,621.9 822.6,622.4 823.4,624.3 824.2,629.7 825.0,622.0 825.8,618.9 826.6,618.5 827.4,630.3 828.2,623.0 829.0,620.8 829.8,627.8 830.6,631.7 831.4,628.9 832.2,623.4 833.0,627.5 833.8,626.3 834.6,623.6 835.4,637.1 836.2,630.9 837.0,627.2 837.8,638.0 838.6,640.0 839.4,638.4 840.2,631.3 841.0,631.0 841.8,636.1 842.6,637.4 843.4,641.8 844.2,643.4 845.0,643.0 845.8,635.5 846.6,639.0 847.4,632.9 848.2,638.3 849.0,632.1 849.8,632.7 850.6,632.7 851.4,635.1 852.2,635.1 853.0,640.4 853.8,631.7 854.6,632.0 855.4,639.3 856.2,639.3 857.0,639.6 857.8,639.6 858.6,638.6 859.4,636.9 860.2,639.2 861.0,630.0 861.8,631.5 862.6,638.5 863.4,630.8 864.2,635.2 865.0,631.2 865.8,633.3 866.6,638.6 867.4,636.0 868.2,632.8 869.0,630.3 869.8,637.3 870.6,635.1 871.4,632.0 872.2,637.6 873.0,635.1 873.8,638.8 874.6,634.4 875.4,637.5 876.2,632.6 877.0,634.7 877.8,636.5 878.6,626.2 879.4,631.5 880.2,633.3 881.0,625.8 881.8,635.9 882.6,634.9 883.4,638.0 884.2,630.5 885.0,632.0 885.8,638.1 886.6,631.5 887.4,637.4 888.2,632.0 889.0,631.1 889.8,630.4 890.6,629.8 891.4,633.0 892.2,629.6 893.0,638.9 893.8,641.1 894.6,629.4 895.4,629.1 896.2,628.6 897.0,641.5 897.8,630.0 898.6,638.5 899.4,633.6 900.2,632.4 901.0,633.2 901.8,639.5 902.6,630.5 903.4,642.2 904.2,638.3 905.0,633.9 905.8,633.7 906.6,639.9 907.4,639.6 908.2,635.5 909.0,635.7 909.8,637.5 910.6,643.6 911.4,638.5 912.2,642.6 913.0,639.9 913.8,638.8 914.6,637.8 915.4,640.3 916.2,637.7 917.0,640.9 917.8,633.4 918.6,635.3 919.4,642.8 920.2,636.2 921.0,642.2 921.8,643.5 922.6,638.5 923.4,632.0 924.2,640.9 925.0,639.6 925.8,634.4 926.6,642.1 927.4,636.9 928.2,631.0 929.0,631.1 929.8,633.3 930.6,638.4 931.4,641.1 932.2,631.4 933.0,630.3 933.8,638.4 934.6,635.4 935.4,635.8 936.2,641.0 937.0,642.3 937.8,642.9 938.6,640.3 939.4,629.8 940.2,631.8 941.0,637.7 941.8,642.7 942.6,630.8 943.4,636.7 944.2,635.1 945.0,635.2 945.8,633.4 946.6,633.4 947.4,632.9 948.2,631.1 949.0,637.2 949.8,635.8 950.6,639.4 951.4,638.4 952.2,642.7 953.0,634.3 953.8,641.7 954.6,634.9 955.4,638.7 956.2,640.6 957.0,635.1 957.8,635.8 958.6,638.3 959.4,631.2 960.2,636.9 961.0,631.0 961.8,632.8 962.6,638.2 963.4,642.9 964.2,643.3 965.0,633.2 966.0,636.5"/>
<polyline class="ga" points="115.6,720.0 116.4,718.5 117.2,717.0 118.0,720.6 118.8,719.3 119.6,717.0 120.4,717.1 121.2,716.1 122.0,716.6 122.8,718.9 123.6,718.7 124.4,718.7 125.2,717.1 126.0,708.5 126.8,712.1 127.6,715.5 128.4,710.0 129.2,713.3 130.0,707.2 130.8,708.8 131.6,710.9 132.4,707.3 133.2,711.4 134.0,709.6 134.8,716.9 135.6,711.4 136.4,712.6 137.2,717.8 138.0,715.8 138.8,710.8 139.6,713.2 140.4,718.1 141.2,714.1 142.0,715.2 142.8,719.7 143.6,718.6 144.4,716.3 145.2,719.7 146.0,720.7 146.8,714.4 147.6,717.2 148.4,717.7 149.2,724.2 150.0,715.2 150.8,718.6 151.6,717.1 152.4,722.7 153.2,724.1 154.0,715.9 154.8,724.9 155.6,723.1 156.4,717.9 157.2,725.6 158.0,718.7 158.8,724.0 159.6,715.9 160.4,719.6 161.2,719.5 162.0,723.1 162.8,721.6 163.6,717.5 164.4,711.1 165.2,714.2 166.0,712.5 166.8,718.2 167.6,713.7 168.4,709.6 169.2,708.1 170.0,711.3 170.8,702.6 171.6,709.0 172.4,705.7 173.2,701.4 174.0,702.8 174.8,697.7 175.6,693.4 176.4,695.1 177.2,689.9 178.0,689.4 178.8,692.7 179.6,696.3 180.4,688.8 181.2,691.5 182.0,696.2 182.8,694.0 183.6,694.3 184.4,691.3 185.2,689.9 186.0,689.4 186.8,689.3 187.6,687.5 188.4,686.0 189.2,684.5 190.0,682.4 190.8,685.6 191.6,690.0 192.4,687.6 193.2,683.4 194.0,690.8 194.8,682.6 195.6,692.8 196.4,690.2 197.2,689.6 198.0,688.6 198.8,693.7 199.6,685.4 200.4,686.1 201.2,692.3 202.0,690.5 202.8,692.3 203.6,694.4 204.4,689.7 205.2,700.9 206.0,698.4 206.8,693.0 207.6,701.0 208.4,699.8 209.2,702.6 210.0,704.2 210.8,708.1 211.6,699.6 212.4,710.3 213.2,705.6 214.0,703.5 214.8,706.3 215.6,707.1 216.4,713.6 217.2,710.2 218.0,705.8 218.8,713.6 219.6,711.8 220.4,715.9 221.2,708.1 222.0,717.7 222.8,718.7 223.6,709.5 224.4,715.2 225.2,711.9 226.0,716.8 226.8,712.5 227.6,721.7 228.4,714.3 229.2,720.0 230.0,720.1 230.8,716.6 231.6,715.6 232.4,723.4 233.2,713.7 234.0,716.0 234.8,716.7 235.6,719.3 236.4,716.7 237.2,713.5 238.0,718.2 238.8,719.5 239.6,718.8 240.4,716.0 241.2,713.5 242.0,709.7 242.8,714.9 243.6,715.4 244.4,712.8 245.2,717.9 246.0,709.1 246.8,715.2 247.6,713.6 248.4,714.8 249.2,714.2 250.0,705.7 250.8,712.3 251.6,705.5 252.4,707.5 253.2,709.4 254.0,704.4 254.8,703.2 255.6,696.5 256.4,701.3 257.2,696.5 258.0,697.3 258.8,696.4 259.6,702.3 260.4,698.2 261.2,698.8 262.0,692.5 262.8,694.0 263.6,700.5 264.4,692.5 265.2,702.1 266.0,696.9 266.8,697.1 267.6,699.2 268.4,699.1 269.2,700.1 270.0,700.3 270.8,704.0 271.6,699.8 272.4,698.9 273.2,702.1 274.0,698.3 274.8,701.5 275.6,700.3 276.4,701.1 277.2,690.8 278.0,690.8 278.8,691.6 279.6,680.8 280.4,681.8 281.2,683.7 282.0,685.8 282.8,695.1 283.6,702.8 284.4,703.4 285.2,707.9 286.0,713.9 286.8,712.6 287.6,712.8 288.4,717.3 289.2,713.4 290.0,708.9 290.8,711.3 291.6,714.0 292.4,716.7 293.2,711.4 294.0,706.0 294.8,711.8 295.6,703.1 296.4,698.9 297.2,700.1 298.0,695.5 298.8,690.6 299.6,695.1 300.4,692.9 301.2,694.2 302.0,683.2 302.8,689.8 303.6,686.5 304.4,678.4 305.2,678.8 306.0,678.3 306.8,672.8 307.6,668.6 308.4,674.9 309.2,666.0 310.0,668.3 310.8,666.7 311.6,671.2 312.4,667.2 313.2,665.7 314.0,672.1 314.8,665.7 315.6,670.4 316.4,665.8 317.2,672.5 318.0,673.4 318.8,675.4 319.6,672.8 320.4,671.2 321.2,677.1 322.0,681.5 322.8,676.3 323.6,674.5 324.4,677.9 325.2,688.4 326.0,680.9 326.8,684.4 327.6,688.0 328.4,699.8 329.2,696.9 330.0,702.6 330.8,704.4 331.6,702.1 332.4,704.9 333.2,699.7 334.0,697.0 334.8,690.1 335.6,682.1 336.4,684.1 337.2,676.5 338.0,673.6 338.8,677.6 339.6,669.3 340.4,664.0 341.2,667.1 342.0,663.3 342.8,654.8 343.6,654.4 344.4,653.3 345.2,645.5 346.0,648.9 346.8,642.4 347.6,634.6 348.4,634.6 349.2,620.4 350.0,618.1 350.8,621.5 351.6,613.1 352.4,605.7 353.2,606.7 354.0,605.6 354.8,601.8 355.6,593.8 356.4,592.4 357.2,595.8 358.0,591.8 358.8,594.2 359.6,603.2 360.4,604.9 361.2,606.3 362.0,618.4 362.8,619.3 363.6,629.2 364.4,632.0 365.2,636.9 366.0,639.3 367.3,647.4 368.5,649.6 369.8,655.5 371.0,666.4 372.3,665.3 373.5,671.1 374.8,678.5 376.0,678.4 377.3,680.1 378.5,682.0 379.8,668.9 381.0,659.8 382.3,651.9 383.5,623.1 384.8,594.3 386.0,568.3 387.3,535.3 388.5,513.4 389.8,482.1 391.0,454.2 392.3,425.7 393.5,411.1 394.8,405.7 396.0,398.2 397.3,386.1 398.5,380.1 399.8,375.4 401.0,369.7 402.3,368.0 403.5,365.2 404.8,363.6 406.0,356.4 407.3,355.6 408.5,353.0 409.8,352.5 411.0,350.1 412.3,355.1 413.5,348.7 414.8,345.4 416.0,349.1 417.3,350.9 418.5,348.8 419.8,347.2 421.0,344.7 422.3,345.0 423.5,344.2 424.8,348.9 426.0,349.1 427.3,346.6 428.5,350.3 429.8,348.9 431.0,351.2 432.3,353.1 433.5,360.9 434.8,369.7 436.0,384.3 437.3,391.3 438.5,400.7 439.8,408.6 441.0,416.3 442.3,419.5 443.5,428.4 444.8,429.7 446.0,442.3 447.3,447.7 448.5,468.3 449.8,481.4 451.0,490.6 452.3,512.5 453.5,529.2 454.8,533.1 456.0,548.4 457.3,564.1 458.5,585.3 459.8,606.4 461.0,625.6 462.3,631.6 463.5,641.5 464.8,642.3 466.0,633.6 467.3,627.2 468.5,619.0 469.8,594.3 471.0,573.6 472.3,565.9 473.5,559.4 474.8,546.5 476.0,540.4 477.3,535.4 478.5,531.0 479.8,528.0 481.0,519.8 482.3,525.6 483.5,518.3 484.8,518.3 486.0,522.0 487.3,524.1 488.5,527.7 489.8,526.2 491.0,534.7 492.3,535.0 493.5,541.4 494.8,544.2 496.0,547.7 497.3,554.5 498.5,566.9 499.8,573.2 501.0,582.4 502.3,589.8 503.5,594.3 504.8,598.5 506.0,595.2 507.3,597.6 508.5,587.0 509.8,588.8 511.0,582.5 512.3,573.1 513.5,571.1 514.8,563.3 516.0,555.6 517.3,551.7 518.5,544.9 519.8,532.7 521.0,532.4 522.3,518.1 523.5,511.2 524.8,509.2 526.0,502.0 527.3,497.7 528.5,492.9 529.8,489.8 531.0,493.6 532.3,493.9 533.5,489.0 534.8,488.7 536.0,492.0 537.3,487.4 538.5,485.9 539.8,483.5 541.0,471.1 542.3,471.9 543.5,465.9 544.8,456.8 546.0,448.7 547.3,443.3 548.5,431.1 549.8,423.5 551.0,406.4 552.3,391.7 553.5,389.9 554.8,380.2 556.0,356.9 557.3,342.4 558.5,328.9 559.5,319.8"/>
<polyline class="ga" points="575.0,322.9 576.2,347.2 577.5,373.4 578.8,388.3 580.0,411.6 581.2,425.4 582.5,438.6 583.8,445.5 585.0,465.4 586.2,480.9 587.5,496.1 588.8,503.9 590.0,514.1 591.2,517.4 592.5,526.0 593.8,532.7 595.0,533.1 596.2,535.9 597.5,541.7 598.8,544.5 600.0,556.3 601.2,552.8 602.0,563.2 602.8,561.6 603.6,569.4 604.4,573.1 605.2,568.7 606.0,580.0 606.8,586.5 607.6,586.2 608.4,592.0 609.2,592.5 610.0,595.0 610.8,607.0 611.6,611.6 612.4,606.2 613.2,608.0 614.0,614.3 614.8,621.0 615.6,619.4 616.4,630.7 617.2,630.3 618.0,634.4 618.8,631.3 619.6,635.7 620.4,640.5 621.2,626.8 622.0,636.6 622.8,630.9 623.6,641.3 624.4,632.5 625.2,641.1 626.0,634.6 626.8,640.1 627.6,640.7 628.4,644.6 629.2,644.2 630.0,637.2 630.8,641.5 631.6,633.4 632.4,632.3 633.2,642.7 634.0,646.2 634.8,644.2 635.6,641.3 636.4,644.2 637.2,647.2 638.0,646.1 638.8,644.5 639.6,654.4 640.4,648.5 641.2,659.3 642.0,659.8 642.8,661.9 643.6,664.8 644.4,669.6 645.2,671.8 646.0,665.9 646.8,665.9 647.6,673.6 648.4,679.2 649.2,675.2 650.0,666.7 650.8,668.3 651.6,676.8 652.4,683.6 653.2,686.7 654.0,679.9 654.8,683.7 655.6,685.1 656.4,679.7 657.2,679.5 658.0,689.4 658.8,690.3 659.6,697.3 660.4,687.2 661.2,699.1 662.0,690.3 662.8,695.3 663.6,698.5 664.4,689.5 665.2,702.7 666.0,702.8 666.8,702.6 667.6,686.2 668.4,696.1 669.2,695.8 670.0,698.4 670.8,686.4 671.6,684.2 672.4,694.5 673.2,684.7 674.0,680.7 674.8,680.5 675.6,689.0 676.4,686.9 677.2,690.2 678.0,691.2 678.8,678.3 679.6,694.1 680.4,694.0 681.2,695.8 682.0,694.1 682.8,689.1 683.6,688.2 684.4,700.5 685.2,694.0 686.0,696.7 686.8,701.7 687.6,703.2 688.4,704.9 689.2,705.3 690.0,704.9 690.8,710.9 691.6,706.8 692.4,706.9 693.2,720.0 694.0,721.6 694.8,722.1 695.6,715.8 696.4,716.5 697.2,733.4 698.0,736.0 698.8,727.2 699.6,734.8 700.4,726.2 701.2,733.4 702.0,739.0 702.8,733.4 703.6,740.7 704.4,742.5 705.2,729.8 706.0,738.8 706.8,733.7 707.6,730.4 708.4,733.2 709.2,735.4 710.0,742.2 710.8,740.1 711.6,727.6 712.4,728.4 713.2,743.8 714.0,736.6 714.8,737.5 715.6,733.1 716.4,740.5 717.2,735.2 718.0,734.9 718.8,728.1 719.6,735.5 720.4,725.0 721.2,722.4 722.0,728.6 722.8,731.2 723.6,721.2 724.4,720.3 725.2,717.0 726.0,723.8 726.8,726.3 727.6,715.7 728.4,722.5 729.2,722.8 730.0,716.0 730.8,723.3 731.6,719.5 732.4,718.9 733.2,732.3 734.0,718.3 734.8,723.1 735.6,728.3 736.4,725.5 737.2,719.9 738.0,734.6 738.8,725.0 739.6,728.6 740.4,737.5 741.2,739.1 742.0,738.9 742.8,731.3 743.6,737.4 744.4,739.8 745.2,729.9 746.0,743.3 746.8,729.9 747.6,739.9 748.4,733.9 749.2,734.3 750.0,733.9 750.8,747.9 751.6,735.3 752.4,748.9 753.2,737.3 754.0,740.6 754.8,739.2 755.6,752.4 756.4,738.0 757.2,750.8 758.0,741.7 758.8,752.3 759.6,748.5 760.4,739.7 761.2,742.8 762.0,735.8 762.8,738.6 763.6,730.9 764.4,740.3 765.2,737.6 766.0,731.1 766.8,725.9 767.6,740.3 768.4,726.5 769.2,729.8 770.0,724.9 770.8,731.0 771.6,731.6 772.4,734.2 773.2,731.3 774.0,730.7 774.8,740.2 775.6,732.7 776.4,734.4 777.2,737.9 778.0,735.2 778.8,743.6 779.6,734.1 780.4,739.0 781.2,741.7 782.0,740.1 782.8,750.7 783.6,743.8 784.4,745.9 785.2,747.7 786.0,754.6 786.8,745.5 787.6,756.4 788.4,759.3 789.2,748.9 790.0,748.0 790.8,758.8 791.6,751.6 792.4,750.6 793.2,748.5 794.0,757.6 794.8,763.0 795.6,762.1 796.4,757.3 797.2,754.6 798.0,763.1 798.8,757.5 799.6,761.8 800.4,756.9 801.2,756.4 802.0,755.7 802.8,745.5 803.6,746.8 804.4,742.9 805.2,756.3 806.0,756.5 806.8,749.2 807.6,741.0 808.4,739.7 809.2,744.1 810.0,742.5 810.8,738.5 811.6,736.1 812.4,744.6 813.2,746.5 814.0,734.1 814.8,737.7 815.6,737.3 816.4,741.1 817.2,742.1 818.0,739.0 818.8,746.7 819.6,739.2 820.4,738.1 821.2,746.1 822.0,747.9 822.8,749.0 823.6,738.1 824.4,739.2 825.2,744.2 826.0,753.2 826.8,748.2 827.6,748.9 828.4,744.7 829.2,756.2 830.0,743.6 830.8,750.4 831.6,752.8 832.4,755.4 833.2,755.8 834.0,749.1 834.8,747.4 835.6,759.1 836.4,752.1 837.2,747.6 838.0,745.2 838.8,756.1 839.6,756.8 840.4,752.2 841.2,749.1 842.0,753.6 842.8,758.8 843.6,752.2 844.4,755.6 845.2,757.1 846.0,754.9 846.8,750.5 847.6,745.3 848.4,753.8 849.2,755.9 850.0,758.0 850.8,744.7 851.6,744.0 852.4,752.5 853.2,755.5 854.0,743.2 854.8,751.9 855.6,746.2 856.4,758.1 857.2,747.6 858.0,743.0 858.8,754.5 859.6,746.5 860.4,748.4 861.2,743.7 862.0,746.9 862.8,743.7 863.6,745.7 864.4,751.0 865.2,746.4 866.0,752.5 866.8,756.4 867.6,751.1 868.4,742.2 869.2,757.5 870.0,745.1 870.8,747.7 871.6,750.7 872.4,752.3 873.2,747.9 874.0,749.7 874.8,752.8 875.6,750.2 876.4,747.5 877.2,749.7 878.0,749.4 878.8,748.1 879.6,753.3 880.4,752.0 881.2,750.5 882.0,755.5 882.8,757.4 883.6,754.9 884.4,750.0 885.2,759.9 886.0,746.4 886.8,758.1 887.6,751.9 888.4,751.6 889.2,759.1 890.0,756.2 890.8,761.5 891.6,760.1 892.4,747.7 893.2,754.2 894.0,758.6 894.8,747.5 895.6,755.1 896.4,762.6 897.2,750.3 898.0,748.4 898.8,751.4 899.6,752.4 900.4,751.5 901.2,754.0 902.0,760.7 902.8,755.6 903.6,756.9 904.4,749.2 905.2,748.5 906.0,763.2 906.8,753.4 907.6,763.3 908.4,753.4 909.2,758.5 910.0,758.9 910.8,749.7 911.6,749.4 912.4,755.6 913.2,750.5 914.0,753.4 914.8,751.8 915.6,753.8 916.4,756.2 917.2,753.9 918.0,754.4 918.8,756.9 919.6,760.2 920.4,749.7 921.2,765.5 922.0,756.2 922.8,764.3 923.6,749.3 924.4,750.1 925.2,750.8 926.0,764.2 926.8,756.0 927.6,763.1 928.4,760.6 929.2,750.6 930.0,755.1 930.8,754.6 931.6,756.6 932.4,761.6 933.2,750.6 934.0,764.4 934.8,757.0 935.6,755.2 936.4,760.6 937.2,753.7 938.0,760.8 938.8,756.0 939.6,757.0 940.4,752.2 941.2,752.4 942.0,763.2 942.8,758.5 943.6,756.0 944.4,761.8 945.2,764.0 946.0,751.6 946.8,765.4 947.6,749.2 948.4,759.0 949.2,753.2 950.0,753.0 950.8,756.9 951.6,758.7 952.4,755.9 953.2,760.4 954.0,764.3 954.8,751.4 955.6,752.5 956.4,758.5 957.2,755.2 958.0,753.6 958.8,756.6 959.6,759.7 960.4,763.1 961.2,763.6 962.0,761.5 962.8,753.7 963.6,762.4 964.4,759.5 965.2,750.6 966.0,755.9"/>
<line x1="418.3" y1="61.2" x2="418.3" y2="795" stroke="#a6a6a6" stroke-width="6.8" stroke-dasharray="8.5 9.13" stroke-dashoffset="1.75"/>
<text transform="translate(57.6,91.6) scale(0.79,1)" font-size="56">a</text>
<text transform="translate(115.5,866) scale(0.926,1)" font-size="58" text-anchor="middle">24</text>
<text transform="translate(222.1,866) scale(0.926,1)" font-size="58" text-anchor="middle">25</text>
<text transform="translate(328.6,866) scale(0.926,1)" font-size="58" text-anchor="middle">26</text>
<text transform="translate(435.2,866) scale(0.926,1)" font-size="58" text-anchor="middle">27</text>
<text transform="translate(541.8,866) scale(0.926,1)" font-size="58" text-anchor="middle">28</text>
<text transform="translate(648.3,866) scale(0.926,1)" font-size="58" text-anchor="middle">29</text>
<text transform="translate(754.9,866) scale(0.926,1)" font-size="58" text-anchor="middle">30</text>
<text transform="translate(861.4,866) scale(0.926,1)" font-size="58" text-anchor="middle">31</text>
<text transform="translate(968.0,866) scale(0.926,1)" font-size="58" text-anchor="middle">32</text>
<text x="482.5" y="920" font-size="54" textLength="126" lengthAdjust="spacingAndGlyphs">2θ (°)</text>
<text transform="translate(78.7,652.0) rotate(-90)" font-size="52" textLength="201.5" lengthAdjust="spacingAndGlyphs">Intensity</text>
<text transform="translate(78.7,438.0) rotate(-90)" font-size="52" textLength="90.5" lengthAdjust="spacingAndGlyphs">(log</text>
<text transform="translate(91.2,348.5) rotate(-90)" font-size="36" textLength="38.5" lengthAdjust="spacingAndGlyphs">10</text>
<text transform="translate(78.7,313.2) rotate(-90)" font-size="52" textLength="135" lengthAdjust="spacingAndGlyphs">, a.u.)</text>
<text transform="translate(1065.3,644.8) rotate(-90)" font-size="50" textLength="193.3" lengthAdjust="spacingAndGlyphs">Intensity</text>
<text transform="translate(1065.3,441.8) rotate(-90)" font-size="50" textLength="84" lengthAdjust="spacingAndGlyphs">(log</text>
<text transform="translate(1077.9,360) rotate(-90)" font-size="35" textLength="39.3" lengthAdjust="spacingAndGlyphs">10</text>
<text transform="translate(1065.3,324.8) rotate(-90)" font-size="50" textLength="126.7" lengthAdjust="spacingAndGlyphs">, a.u.)</text>
<line x1="654" y1="110.9" x2="719" y2="110.9" stroke="#333" stroke-width="2.7"/>
<circle cx="686.9" cy="110.9" r="11" fill="none" stroke="#000" stroke-width="3"/>
<text x="734" y="122.3" font-size="32" fill="#2a2a2a" textLength="206" lengthAdjust="spacingAndGlyphs">2 LSCO + 6 LCO</text>
<line x1="654" y1="152.8" x2="719" y2="152.8" stroke="#f00" stroke-width="2.7"/>
<rect x="675.9" y="141.3" width="23" height="23" fill="none" stroke="#f00" stroke-width="3"/>
<text x="734" y="164.2" font-size="32" fill="#2a2a2a" textLength="206" lengthAdjust="spacingAndGlyphs">3 LSCO + 5 LCO</text>
<line x1="654" y1="195.0" x2="719" y2="195.0" stroke="#00e5e5" stroke-width="2.7"/>
<path d="M686.9 180.0 L699.6999999999999 201.8 L674.1 201.8 Z" fill="none" stroke="#00e5e5" stroke-width="3" stroke-linejoin="miter"/>
<text x="734" y="206.4" font-size="32" fill="#2a2a2a" textLength="206" lengthAdjust="spacingAndGlyphs">4 LSCO + 4 LCO</text>
<line x1="654" y1="237.0" x2="719" y2="237.0" stroke="#00cc00" stroke-width="2.7"/>
<path d="M686.9 221.5 L701.4 237.0 L686.9 252.5 L672.4 237.0 Z" fill="none" stroke="#00cc00" stroke-width="3"/>
<text x="734" y="248.4" font-size="32" fill="#2a2a2a" textLength="206" lengthAdjust="spacingAndGlyphs">5 LSCO + 3 LCO</text>
<polyline class="kb" points="1105.7,113.9 1108.1,111.6 1110.5,109.0 1112.9,106.9 1115.3,104.0 1117.7,102.4 1120.1,98.4 1122.5,96.4 1124.9,94.7 1127.3,93.5 1129.7,91.3 1132.1,88.8 1134.5,87.4 1136.9,86.7 1139.3,85.1 1141.7,84.8 1144.1,83.2 1146.5,83.1 1148.9,82.0 1151.3,80.7 1153.7,79.7 1156.1,78.8 1158.5,78.5 1160.9,78.4 1163.3,78.3 1165.7,78.3 1168.1,79.4 1170.5,79.6 1172.9,82.3 1175.3,84.8 1177.7,88.2 1180.1,93.1 1182.5,97.0 1184.9,101.1 1187.3,106.6 1189.7,112.0 1192.1,120.3 1194.5,130.2 1196.9,138.9 1199.3,147.6 1201.7,154.0 1204.1,159.8 1206.5,163.7 1208.9,167.2 1211.3,170.4 1213.7,173.5 1216.1,178.3 1218.5,181.0 1220.9,184.8 1223.3,188.8 1225.7,193.2 1228.1,197.2 1230.5,201.3 1232.9,206.9 1235.3,213.9 1237.7,220.4 1240.1,225.2 1242.5,229.0 1244.9,231.0 1247.3,231.8 1249.7,232.5 1252.1,234.4 1254.5,234.4 1256.9,235.3 1259.3,236.1 1261.7,237.4 1264.1,236.3 1266.5,236.9 1268.9,239.2 1271.3,242.2 1273.7,243.3 1276.1,247.9 1278.5,250.4 1280.9,256.3 1283.3,262.0 1285.7,270.1 1288.1,276.0 1290.5,281.5 1292.9,284.6 1295.3,287.9 1297.7,291.3 1300.1,293.6 1302.5,294.0 1304.9,293.8 1307.3,294.0 1309.7,293.2 1312.1,293.5 1314.5,292.7 1316.9,293.2 1319.3,294.4 1321.7,296.0 1324.1,297.1 1326.5,297.9 1328.9,300.8 1331.3,302.5 1333.7,307.6 1336.1,311.6 1338.5,318.1 1340.9,322.9 1343.3,329.3 1345.7,333.2 1348.1,340.5 1350.5,346.6 1352.9,351.0 1355.3,355.3 1357.7,356.1 1360.1,355.4 1362.5,354.0 1364.9,351.7 1367.3,351.2 1369.7,348.3 1372.1,346.8 1374.5,344.7 1376.9,344.8 1379.3,343.1 1381.7,342.8 1384.1,343.5 1386.5,345.0 1388.9,345.8 1391.3,346.9 1393.7,348.0 1396.1,351.0 1398.5,355.4 1400.9,357.7 1403.3,362.0 1405.7,368.2 1408.1,370.8 1410.5,375.3 1412.9,380.9 1415.3,383.9 1417.7,383.2 1420.1,385.0 1422.5,386.7 1424.9,390.2 1427.3,390.2 1429.7,393.1 1432.1,394.9 1434.5,393.8 1436.9,397.9 1439.3,396.6 1441.7,398.7 1444.1,399.0 1446.5,400.3 1448.9,402.1 1451.3,402.8 1453.7,408.0 1456.1,411.6 1458.5,416.6 1460.9,420.5 1463.3,425.5 1465.7,431.8 1468.1,438.4 1470.5,440.3 1472.9,448.3 1475.3,450.9 1477.7,450.8 1480.1,450.5 1482.5,453.7 1484.9,448.5 1487.3,445.1 1489.7,444.8 1492.1,441.8 1494.5,439.6 1496.9,434.7 1499.3,431.3 1501.7,429.8 1504.1,428.6 1506.5,431.5 1508.9,434.7 1511.3,432.0 1513.7,436.5 1516.1,439.3 1518.5,441.0 1520.9,447.3 1523.3,452.9 1525.7,453.0 1528.1,461.1 1530.5,467.9 1532.9,469.4 1535.3,478.2 1537.7,480.5 1540.1,481.2 1542.5,477.6 1544.9,476.2 1547.3,472.1 1549.7,474.1 1552.1,469.8 1554.5,461.2 1556.9,461.5 1559.3,457.2 1561.7,459.6 1564.1,456.5 1566.5,457.7 1568.9,454.7 1571.3,448.8 1573.7,450.1 1576.1,451.3 1578.5,454.5 1580.9,452.6 1583.3,455.0 1585.7,460.5 1588.1,465.5 1590.5,469.8 1592.9,475.9 1595.3,478.5 1597.7,483.9 1600.1,490.3 1602.5,493.9 1604.9,489.7 1607.3,495.3 1609.7,497.4 1612.1,492.7 1614.5,494.9 1616.9,489.6 1619.3,488.1 1621.7,484.3 1624.1,485.3 1626.5,476.3 1628.9,476.1 1631.3,474.1 1633.7,470.2 1636.1,475.9 1638.5,470.8 1640.9,472.2 1643.3,478.0 1645.7,478.3 1648.1,483.3 1650.5,480.3 1652.9,484.8 1655.3,496.7 1657.7,499.3 1660.1,510.3 1662.5,508.5 1664.9,511.9 1667.3,519.6 1669.7,513.4 1672.1,509.2 1674.5,508.4 1676.9,512.3 1679.3,503.9 1681.7,504.6 1684.1,505.3 1686.5,500.5 1688.9,500.4 1691.3,502.0 1693.7,493.3 1696.1,499.6 1698.5,495.1 1700.9,490.3 1703.3,489.0 1705.7,491.0 1708.1,488.4 1710.5,496.2 1712.9,493.5 1715.3,489.7 1717.7,505.9 1720.1,508.3 1722.5,510.7 1724.9,508.7 1727.3,514.5 1729.7,521.7 1732.1,518.3 1734.5,517.5 1736.9,520.5 1739.3,520.9 1741.7,523.3 1744.1,519.0 1746.5,519.9 1748.9,519.8 1751.3,533.2 1753.7,523.1 1756.1,528.4 1758.5,534.6 1760.9,534.9 1763.3,542.4 1765.7,533.8 1768.1,533.9 1770.5,536.1 1772.9,542.5 1775.3,540.5 1777.7,543.9 1780.1,548.1 1782.5,542.7 1784.9,548.0 1787.3,537.7 1789.7,545.7 1792.1,551.1 1794.5,551.1 1796.9,544.9 1799.3,551.1 1801.7,538.6 1804.1,539.2 1806.5,541.4 1808.9,542.2 1811.3,547.3 1813.7,541.2 1816.1,534.5 1818.5,545.7 1820.9,537.8 1823.3,549.3 1825.7,538.1 1828.1,539.8 1830.5,537.4 1832.9,540.6 1835.3,546.2 1837.7,540.7 1840.1,537.1 1842.5,547.2 1844.9,550.4 1847.3,539.7 1849.7,546.1 1852.1,540.2 1854.5,539.8 1856.9,547.0 1859.3,545.9 1861.7,557.4 1864.1,541.6 1866.5,554.1 1868.9,556.2 1871.3,550.6 1873.7,552.6 1876.1,547.9 1878.5,548.1 1880.9,544.2 1883.3,560.7 1885.7,542.8 1888.1,544.2 1890.5,555.1 1892.9,548.8 1895.3,548.9 1897.7,543.6 1900.1,540.0 1902.5,552.3 1904.9,537.5 1907.3,540.1 1909.7,548.6 1912.1,538.3 1914.5,551.3 1916.9,534.4 1919.3,541.6 1921.7,541.9 1924.1,541.6 1926.5,548.2 1928.9,533.4 1931.3,545.4 1933.7,551.8 1936.1,536.7 1938.5,548.5 1940.9,546.9 1943.3,546.9 1945.7,550.7 1948.1,553.4 1950.5,556.0 1952.9,561.1 1955.3,556.1 1957.7,564.4 1960.1,556.8 1962.5,547.5 1964.9,544.3 1967.3,541.9 1969.7,545.7 1972.1,541.2 1974.5,553.4 1976.9,552.3 1979.7,546.0"/>
<polyline class="rb" points="1105.7,167.0 1108.1,163.8 1110.5,160.4 1112.9,158.9 1115.3,154.4 1117.7,152.4 1120.1,150.6 1122.5,147.7 1124.9,147.0 1127.3,144.2 1129.7,142.1 1132.1,139.7 1134.5,138.5 1136.9,137.7 1139.3,135.8 1141.7,134.4 1144.1,134.5 1146.5,133.0 1148.9,133.2 1151.3,132.1 1153.7,131.5 1156.1,131.2 1158.5,130.6 1160.9,129.4 1163.3,129.8 1165.7,129.3 1168.1,129.4 1170.5,129.8 1172.9,130.1 1175.3,131.0 1177.7,134.4 1180.1,141.4 1182.5,147.3 1184.9,152.7 1187.3,159.4 1189.7,166.3 1192.1,177.1 1194.5,185.2 1196.9,194.2 1199.3,200.1 1201.7,206.4 1204.1,212.0 1206.5,214.9 1208.9,218.8 1211.3,221.8 1213.7,224.1 1216.1,226.7 1218.5,231.0 1220.9,233.1 1223.3,237.9 1225.7,242.4 1228.1,249.7 1230.5,256.6 1232.9,265.2 1235.3,271.0 1237.7,275.0 1240.1,276.3 1242.5,279.4 1244.9,281.5 1247.3,283.1 1249.7,283.2 1252.1,284.8 1254.5,285.7 1256.9,286.3 1259.3,286.0 1261.7,287.3 1264.1,288.3 1266.5,290.6 1268.9,293.3 1271.3,297.9 1273.7,299.8 1276.1,306.5 1278.5,312.0 1280.9,319.6 1283.3,324.8 1285.7,328.3 1288.1,332.4 1290.5,335.0 1292.9,337.4 1295.3,337.9 1297.7,338.1 1300.1,339.4 1302.5,339.8 1304.9,338.0 1307.3,339.2 1309.7,337.2 1312.1,338.5 1314.5,338.0 1316.9,339.9 1319.3,341.8 1321.7,342.6 1324.1,346.8 1326.5,351.2 1328.9,357.5 1331.3,363.1 1333.7,369.6 1336.1,374.8 1338.5,377.6 1340.9,382.0 1343.3,386.1 1345.7,387.5 1348.1,391.8 1350.5,392.8 1352.9,393.1 1355.3,394.7 1357.7,393.2 1360.1,392.4 1362.5,391.5 1364.9,391.7 1367.3,389.2 1369.7,388.7 1372.1,388.5 1374.5,388.1 1376.9,390.6 1379.3,390.8 1381.7,392.4 1384.1,394.7 1386.5,395.3 1388.9,396.4 1391.3,399.1 1393.7,401.5 1396.1,403.6 1398.5,405.9 1400.9,408.4 1403.3,411.5 1405.7,411.7 1408.1,416.0 1410.5,415.4 1412.9,417.2 1415.3,418.5 1417.7,421.3 1420.1,423.2 1422.5,426.5 1424.9,429.7 1427.3,430.1 1429.7,435.1 1432.1,436.7 1434.5,440.8 1436.9,444.2 1439.3,452.2 1441.7,456.7 1444.1,467.9 1446.5,476.2 1448.9,488.6 1451.3,494.2 1453.7,502.8 1456.1,510.9 1458.5,514.6 1460.9,520.1 1463.3,522.7 1465.7,518.7 1468.1,517.9 1470.5,513.4 1472.9,509.5 1475.3,507.2 1477.7,503.2 1480.1,500.8 1482.5,499.4 1484.9,497.4 1487.3,495.5 1489.7,497.1 1492.1,499.6 1494.5,502.6 1496.9,504.2 1499.3,506.1 1501.7,507.0 1504.1,514.3 1506.5,515.9 1508.9,524.0 1511.3,535.6 1513.7,540.7 1516.1,553.4 1518.5,556.0 1520.9,559.0 1523.3,562.2 1525.7,563.2 1528.1,559.1 1530.5,559.9 1532.9,554.5 1535.3,554.7 1537.7,547.3 1540.1,545.8 1542.5,542.4 1544.9,544.9 1547.3,541.9 1549.7,542.8 1552.1,540.0 1554.5,544.0 1556.9,546.7 1559.3,540.8 1561.7,543.7 1564.1,549.1 1566.5,550.5 1568.9,552.6 1571.3,552.0 1573.7,561.2 1576.1,564.9 1578.5,575.3 1580.9,583.2 1583.3,585.4 1585.7,588.8 1588.1,588.3 1590.5,585.6 1592.9,584.9 1595.3,590.5 1597.7,583.0 1600.1,591.0 1602.5,589.4 1604.9,588.7 1607.3,584.7 1609.7,574.8 1612.1,573.0 1614.5,572.3 1616.9,568.8 1619.3,566.2 1621.7,574.2 1624.1,575.0 1626.5,575.3 1628.9,572.7 1631.3,581.6 1633.7,584.6 1636.1,582.9 1638.5,584.0 1640.9,587.0 1643.3,592.2 1645.7,598.2 1648.1,591.3 1650.5,596.2 1652.9,596.4 1655.3,603.4 1657.7,596.2 1660.1,602.7 1662.5,599.8 1664.9,604.3 1667.3,607.0 1669.7,607.7 1672.1,608.4 1674.5,602.4 1676.9,602.5 1679.3,600.8 1681.7,602.4 1684.1,600.5 1686.5,608.2 1688.9,598.7 1691.3,599.8 1693.7,606.4 1696.1,605.3 1698.5,607.0 1700.9,598.6 1703.3,593.3 1705.7,602.1 1708.1,594.1 1710.5,598.8 1712.9,586.9 1715.3,584.9 1717.7,590.2 1720.1,589.1 1722.5,585.3 1724.9,583.0 1727.3,582.3 1729.7,574.6 1732.1,572.9 1734.5,576.8 1736.9,579.6 1739.3,575.3 1741.7,574.3 1744.1,578.1 1746.5,577.6 1748.9,575.5 1751.3,585.2 1753.7,585.5 1756.1,572.5 1758.5,581.3 1760.9,581.4 1763.3,587.4 1765.7,587.2 1768.1,591.9 1770.5,593.8 1772.9,595.8 1775.3,603.7 1777.7,594.0 1780.1,605.9 1782.5,603.4 1784.9,593.5 1787.3,599.0 1789.7,602.0 1792.1,587.1 1794.5,593.4 1796.9,591.1 1799.3,588.1 1801.7,587.7 1804.1,584.6 1806.5,594.7 1808.9,587.9 1811.3,592.7 1813.7,602.7 1816.1,593.7 1818.5,594.3 1820.9,606.4 1823.3,601.2 1825.7,601.9 1828.1,596.2 1830.5,604.2 1832.9,599.5 1835.3,602.4 1837.7,599.6 1840.1,593.6 1842.5,608.2 1844.9,604.5 1847.3,609.3 1849.7,596.7 1852.1,595.9 1854.5,592.8 1856.9,595.7 1859.3,595.8 1861.7,592.8 1864.1,594.1 1866.5,594.4 1868.9,605.5 1871.3,597.2 1873.7,604.6 1876.1,589.3 1878.5,592.7 1880.9,609.3 1883.3,592.2 1885.7,594.0 1888.1,604.8 1890.5,601.6 1892.9,600.8 1895.3,610.5 1897.7,611.0 1900.1,602.1 1902.5,609.0 1904.9,606.2 1907.3,613.4 1909.7,595.1 1912.1,597.1 1914.5,602.8 1916.9,589.8 1919.3,606.7 1921.7,608.8 1924.1,594.4 1926.5,605.5 1928.9,595.7 1931.3,614.2 1933.7,600.3 1936.1,598.2 1938.5,601.5 1940.9,611.3 1943.3,601.3 1945.7,622.6 1948.1,613.3 1950.5,610.5 1952.9,610.3 1955.3,603.8 1957.7,613.6 1960.1,608.2 1962.5,600.5 1964.9,596.5 1967.3,593.3 1969.7,598.7 1972.1,601.8 1974.5,597.9 1976.9,622.2 1979.7,615.8"/>
<polyline class="cb" points="1099.8,220.0 1102.2,216.9 1104.6,215.7 1107.0,213.8 1109.4,210.6 1111.8,210.4 1114.2,206.9 1116.6,205.3 1119.0,204.5 1121.4,202.0 1123.8,201.4 1126.2,198.4 1128.6,196.9 1131.0,196.1 1133.4,194.9 1135.8,193.6 1138.2,191.3 1140.6,190.8 1143.0,189.8 1145.4,189.7 1147.8,188.1 1150.2,188.7 1152.6,187.9 1155.0,186.4 1157.4,186.4 1159.8,186.3 1162.2,187.6 1164.6,187.3 1167.0,188.7 1169.4,190.9 1171.8,191.7 1174.2,195.9 1176.6,200.7 1179.0,207.3 1181.4,214.0 1183.8,221.3 1186.2,227.4 1188.6,235.8 1191.0,243.4 1193.4,252.3 1195.8,261.5 1198.2,270.8 1200.6,276.3 1203.0,278.6 1205.4,280.8 1207.8,283.3 1210.2,285.7 1212.6,287.7 1215.0,291.9 1217.4,299.3 1219.8,304.9 1222.2,312.0 1224.6,317.0 1227.0,321.8 1229.4,328.3 1231.8,332.6 1234.2,336.9 1236.6,339.8 1239.0,341.3 1241.4,343.7 1243.8,344.1 1246.2,345.2 1248.6,346.5 1251.0,346.7 1253.4,347.7 1255.8,347.8 1258.2,348.7 1260.6,349.5 1263.0,349.9 1265.4,352.7 1267.8,356.1 1270.2,360.9 1272.6,364.2 1275.0,368.9 1277.4,375.6 1279.8,381.3 1282.2,388.5 1284.6,392.4 1287.0,395.9 1289.4,396.6 1291.8,398.7 1294.2,400.4 1296.6,401.1 1299.0,400.7 1301.4,401.2 1303.8,401.6 1306.2,401.4 1308.6,401.9 1311.0,403.1 1313.4,403.3 1315.8,403.1 1318.2,406.1 1320.6,409.8 1323.0,412.4 1325.4,417.5 1327.8,421.5 1330.2,425.4 1332.6,427.1 1335.0,432.6 1337.4,436.7 1339.8,439.4 1342.2,444.2 1344.6,446.8 1347.0,451.0 1349.4,453.7 1351.8,455.3 1354.2,455.9 1356.6,454.6 1359.0,453.8 1361.4,454.7 1363.8,452.3 1366.2,452.1 1368.6,451.4 1371.0,452.0 1373.4,450.8 1375.8,451.5 1378.2,451.1 1380.6,451.7 1383.0,451.9 1385.4,452.5 1387.8,451.5 1390.2,452.3 1392.6,453.8 1395.0,454.4 1397.4,455.9 1399.8,456.9 1402.2,456.5 1404.6,457.0 1407.0,459.9 1409.4,460.9 1411.8,460.8 1414.2,461.3 1416.6,462.7 1419.0,465.1 1421.4,467.1 1423.8,469.1 1426.2,471.0 1428.6,474.1 1431.0,477.7 1433.4,480.0 1435.8,483.9 1438.2,489.0 1440.6,495.9 1443.0,502.4 1445.4,507.6 1447.8,513.9 1450.2,522.2 1452.6,531.5 1455.0,538.5 1457.4,549.9 1459.8,561.0 1462.2,567.0 1464.6,568.1 1467.0,563.2 1469.4,561.8 1471.8,557.6 1474.2,556.4 1476.6,553.2 1479.0,548.0 1481.4,543.9 1483.8,543.5 1486.2,540.4 1488.6,540.2 1491.0,542.8 1493.4,549.3 1495.8,551.2 1498.2,558.8 1500.6,562.9 1503.0,568.7 1505.4,572.3 1507.8,578.6 1510.2,588.6 1512.6,593.7 1515.0,599.8 1517.4,610.5 1519.8,615.5 1522.2,616.3 1524.6,620.1 1527.0,621.8 1529.4,618.3 1531.8,617.5 1534.2,613.2 1536.6,612.5 1539.0,603.3 1541.4,604.7 1543.8,595.4 1546.2,592.4 1548.6,588.0 1551.0,592.5 1553.4,592.1 1555.8,588.2 1558.2,594.0 1560.6,596.3 1563.0,601.8 1565.4,604.0 1567.8,612.9 1570.2,611.4 1572.6,619.7 1575.0,619.5 1577.4,627.1 1579.8,630.4 1582.2,636.3 1584.6,641.2 1587.0,646.5 1589.4,645.6 1591.8,648.1 1594.2,657.1 1596.6,650.8 1599.0,650.3 1601.4,646.9 1603.8,647.4 1606.2,646.9 1608.6,638.1 1611.0,633.7 1613.4,630.7 1615.8,624.9 1618.2,623.5 1620.6,622.2 1623.0,625.0 1625.4,632.0 1627.8,625.3 1630.2,630.9 1632.6,629.5 1635.0,629.9 1637.4,639.9 1639.8,634.9 1642.2,636.7 1644.6,645.4 1647.0,641.7 1649.4,643.4 1651.8,653.4 1654.2,647.8 1656.6,656.7 1659.0,652.9 1661.4,657.2 1663.8,655.4 1666.2,656.2 1668.6,662.1 1671.0,659.2 1673.4,647.1 1675.8,649.1 1678.2,638.7 1680.6,638.2 1683.0,634.5 1685.4,640.3 1687.8,640.4 1690.2,639.9 1692.6,639.6 1695.0,634.5 1697.4,631.5 1699.8,629.1 1702.2,634.4 1704.6,640.9 1707.0,636.0 1709.4,639.7 1711.8,645.6 1714.2,647.2 1716.6,648.1 1719.0,648.6 1721.4,646.1 1723.8,654.8 1726.2,652.7 1728.6,659.0 1731.0,655.1 1733.4,667.2 1735.8,658.6 1738.2,668.5 1740.6,670.4 1743.0,658.3 1745.4,663.5 1747.8,654.3 1750.2,647.8 1752.6,638.4 1755.0,637.9 1757.4,636.8 1759.8,640.2 1762.2,643.9 1764.6,645.9 1767.0,646.6 1769.4,642.3 1771.8,643.2 1774.2,650.8 1776.6,655.1 1779.0,644.9 1781.4,649.5 1783.8,649.2 1786.2,662.1 1788.6,649.1 1791.0,664.9 1793.4,664.8 1795.8,659.5 1798.2,666.4 1800.6,662.4 1803.0,667.2 1805.4,663.5 1807.8,670.0 1810.2,659.8 1812.6,662.4 1815.0,654.9 1817.4,648.0 1819.8,655.1 1822.2,639.7 1824.6,651.0 1827.0,652.4 1829.4,650.9 1831.8,647.9 1834.2,649.6 1836.6,656.8 1839.0,650.0 1841.4,659.0 1843.8,660.1 1846.2,663.5 1848.6,657.6 1851.0,662.8 1853.4,653.5 1855.8,653.5 1858.2,654.1 1860.6,665.4 1863.0,657.6 1865.4,667.1 1867.8,650.2 1870.2,650.6 1872.6,662.0 1875.0,652.5 1877.4,647.2 1879.8,656.8 1882.2,644.8 1884.6,658.4 1887.0,643.7 1889.4,654.9 1891.8,647.1 1894.2,656.5 1896.6,644.3 1899.0,658.1 1901.4,646.7 1903.8,651.3 1906.2,656.8 1908.6,657.1 1911.0,661.5 1913.4,664.0 1915.8,656.9 1918.2,653.1 1920.6,669.9 1923.0,668.7 1925.4,669.0 1927.8,668.2 1930.2,677.9 1932.6,663.8 1935.0,676.0 1937.4,657.7 1939.8,667.1 1942.2,670.2 1944.6,650.4 1947.0,662.3 1949.4,649.8 1951.8,644.5 1954.2,653.0 1956.6,659.3 1959.0,650.0 1961.4,665.8 1963.8,644.4 1966.2,651.3 1968.6,653.9 1971.0,655.7 1973.4,655.4 1975.8,650.3 1978.2,656.7 1980.6,660.1 1983.3,668.6"/>
<polyline class="gb" points="1105.7,286.8 1108.1,283.7 1110.5,279.8 1112.9,276.4 1115.3,273.0 1117.7,270.4 1120.1,269.2 1122.5,266.1 1124.9,263.7 1127.3,261.5 1129.7,260.9 1132.1,258.8 1134.5,257.2 1136.9,256.0 1139.3,253.7 1141.7,253.6 1144.1,251.4 1146.5,251.6 1148.9,250.0 1151.3,249.9 1153.7,248.3 1156.1,248.0 1158.5,248.2 1160.9,248.4 1163.3,247.2 1165.7,247.2 1168.1,247.8 1170.5,249.8 1172.9,251.4 1175.3,251.0 1177.7,253.9 1180.1,256.7 1182.5,262.6 1184.9,270.0 1187.3,281.9 1189.7,293.8 1192.1,304.6 1194.5,312.0 1196.9,316.5 1199.3,321.9 1201.7,326.3 1204.1,331.0 1206.5,334.2 1208.9,335.9 1211.3,339.6 1213.7,343.4 1216.1,346.5 1218.5,351.0 1220.9,356.4 1223.3,361.4 1225.7,366.3 1228.1,371.9 1230.5,378.2 1232.9,384.1 1235.3,388.2 1237.7,391.4 1240.1,393.4 1242.5,394.9 1244.9,396.3 1247.3,396.4 1249.7,397.9 1252.1,398.9 1254.5,400.8 1256.9,402.9 1259.3,404.0 1261.7,404.9 1264.1,406.3 1266.5,410.0 1268.9,412.8 1271.3,415.7 1273.7,418.4 1276.1,423.1 1278.5,430.5 1280.9,439.1 1283.3,444.4 1285.7,448.4 1288.1,449.2 1290.5,450.3 1292.9,451.8 1295.3,453.7 1297.7,454.0 1300.1,454.3 1302.5,454.8 1304.9,455.4 1307.3,457.5 1309.7,458.3 1312.1,459.2 1314.5,462.3 1316.9,465.3 1319.3,465.9 1321.7,470.3 1324.1,471.2 1326.5,474.5 1328.9,478.7 1331.3,481.6 1333.7,483.7 1336.1,489.2 1338.5,493.8 1340.9,498.0 1343.3,503.0 1345.7,505.9 1348.1,506.8 1350.5,507.6 1352.9,508.0 1355.3,507.8 1357.7,507.7 1360.1,508.1 1362.5,506.8 1364.9,506.6 1367.3,506.6 1369.7,507.9 1372.1,507.4 1374.5,508.4 1376.9,508.7 1379.3,506.7 1381.7,507.5 1384.1,507.9 1386.5,508.5 1388.9,510.0 1391.3,509.6 1393.7,509.4 1396.1,511.0 1398.5,510.8 1400.9,512.2 1403.3,511.7 1405.7,514.0 1408.1,514.6 1410.5,516.1 1412.9,516.9 1415.3,518.1 1417.7,520.3 1420.1,520.3 1422.5,524.8 1424.9,527.1 1427.3,530.3 1429.7,532.4 1432.1,534.7 1434.5,542.2 1436.9,547.0 1439.3,553.5 1441.7,557.8 1444.1,566.4 1446.5,574.4 1448.9,584.1 1451.3,597.9 1453.7,608.9 1456.1,614.0 1458.5,617.4 1460.9,618.0 1463.3,616.8 1465.7,614.8 1468.1,611.0 1470.5,608.9 1472.9,604.6 1475.3,597.2 1477.7,594.9 1480.1,594.9 1482.5,592.1 1484.9,586.9 1487.3,590.6 1489.7,590.0 1492.1,596.0 1494.5,603.9 1496.9,604.4 1499.3,615.3 1501.7,619.8 1504.1,629.1 1506.5,636.4 1508.9,641.7 1511.3,656.0 1513.7,666.7 1516.1,668.8 1518.5,672.7 1520.9,668.6 1523.3,666.3 1525.7,664.5 1528.1,661.0 1530.5,662.2 1532.9,653.5 1535.3,651.4 1537.7,648.8 1540.1,647.8 1542.5,648.3 1544.9,645.0 1547.3,647.2 1549.7,642.3 1552.1,647.8 1554.5,645.6 1556.9,653.3 1559.3,653.4 1561.7,652.2 1564.1,660.9 1566.5,661.1 1568.9,663.9 1571.3,665.6 1573.7,679.5 1576.1,683.5 1578.5,693.9 1580.9,693.1 1583.3,703.1 1585.7,702.1 1588.1,702.9 1590.5,701.4 1592.9,700.0 1595.3,697.0 1597.7,685.6 1600.1,688.5 1602.5,678.1 1604.9,675.1 1607.3,676.3 1609.7,674.7 1612.1,678.7 1614.5,676.2 1616.9,674.8 1619.3,679.8 1621.7,682.6 1624.1,680.9 1626.5,682.9 1628.9,687.3 1631.3,683.3 1633.7,693.6 1636.1,687.2 1638.5,691.0 1640.9,706.5 1643.3,704.6 1645.7,708.8 1648.1,710.5 1650.5,704.9 1652.9,707.3 1655.3,704.8 1657.7,699.7 1660.1,704.1 1662.5,700.2 1664.9,694.5 1667.3,699.5 1669.7,691.2 1672.1,682.5 1674.5,689.8 1676.9,680.2 1679.3,673.1 1681.7,673.7 1684.1,672.3 1686.5,669.8 1688.9,674.7 1691.3,674.2 1693.7,676.9 1696.1,685.8 1698.5,681.2 1700.9,681.9 1703.3,686.6 1705.7,690.4 1708.1,690.8 1710.5,699.6 1712.9,706.4 1715.3,708.5 1717.7,705.8 1720.1,713.0 1722.5,715.3 1724.9,714.7 1727.3,718.4 1729.7,712.4 1732.1,718.1 1734.5,714.4 1736.9,717.5 1739.3,717.2 1741.7,706.0 1744.1,717.9 1746.5,704.5 1748.9,710.4 1751.3,712.7 1753.7,716.3 1756.1,703.4 1758.5,713.6 1760.9,708.5 1763.3,704.4 1765.7,711.0 1768.1,718.1 1770.5,710.5 1772.9,725.9 1775.3,713.6 1777.7,718.6 1780.1,721.3 1782.5,717.0 1784.9,732.0 1787.3,731.2 1789.7,727.8 1792.1,712.0 1794.5,720.7 1796.9,708.7 1799.3,705.4 1801.7,711.3 1804.1,699.3 1806.5,697.8 1808.9,715.5 1811.3,704.4 1813.7,712.9 1816.1,705.7 1818.5,699.2 1820.9,706.7 1823.3,700.6 1825.7,698.8 1828.1,698.0 1830.5,706.7 1832.9,705.2 1835.3,708.5 1837.7,723.4 1840.1,722.9 1842.5,722.5 1844.9,714.9 1847.3,727.6 1849.7,728.7 1852.1,727.5 1854.5,723.8 1856.7,731.8"/>
<polyline class="gb" points="1862.0,696.7 1864.4,694.6 1866.8,710.7 1869.2,704.1 1871.6,711.2 1874.0,718.4 1876.4,714.1 1878.8,705.3 1881.2,710.1 1883.6,725.0 1886.0,705.9 1888.4,710.8 1890.8,721.0 1893.2,727.3 1895.6,727.3 1898.0,725.8 1900.4,725.6 1902.8,718.1 1905.2,710.7 1907.6,724.5 1910.0,710.7 1912.4,728.1 1914.8,711.4 1917.2,708.3 1919.6,732.0 1922.0,710.9 1924.4,720.8 1926.8,707.3 1929.2,730.2 1931.6,705.6 1934.0,722.6 1936.4,726.6 1938.8,712.5 1941.2,705.0 1943.6,705.7 1946.0,706.3 1948.4,724.5 1950.8,718.6 1953.2,728.3 1955.6,721.3 1958.0,720.3 1960.4,709.8 1962.8,710.5 1965.2,731.2 1967.6,730.8 1970.0,717.0 1972.4,727.3 1974.8,725.7 1977.2,713.8 1979.6,712.1 1982.0,728.0 1983.3,721.3"/>
<g stroke="#1a1a1a" fill="none">
<line x1="1095.6" y1="57" x2="1095.6" y2="799" stroke-width="3" stroke="#8a8a8a"/>
<line x1="1098.4" y1="57" x2="1098.4" y2="799" stroke-width="2.4" stroke="#111"/>
<line x1="1094" y1="58.2" x2="1982" y2="58.2" stroke-width="3.6" stroke="#444"/>
<line x1="1979.8" y1="56.5" x2="1979.8" y2="799" stroke-width="3.2"/>
<line x1="1096" y1="797.3" x2="1982" y2="797.3" stroke-width="4" stroke="#2a2a2a"/>
<line x1="1117.9" y1="60" x2="1117.9" y2="70" stroke-width="3.2"/>
<line x1="1117.9" y1="795.5" x2="1117.9" y2="785.5" stroke-width="3.2"/>
<line x1="1161.0" y1="60" x2="1161.0" y2="70" stroke-width="3.2"/>
<line x1="1161.0" y1="795.5" x2="1161.0" y2="785.5" stroke-width="3.2"/>
<line x1="1204.1" y1="60" x2="1204.1" y2="70" stroke-width="3.2"/>
<line x1="1204.1" y1="795.5" x2="1204.1" y2="785.5" stroke-width="3.2"/>
<line x1="1247.3" y1="60" x2="1247.3" y2="70" stroke-width="3.2"/>
<line x1="1247.3" y1="795.5" x2="1247.3" y2="785.5" stroke-width="3.2"/>
<line x1="1290.4" y1="60" x2="1290.4" y2="81" stroke-width="3.2"/>
<line x1="1290.4" y1="795.5" x2="1290.4" y2="774.5" stroke-width="3.2"/>
<line x1="1333.5" y1="60" x2="1333.5" y2="70" stroke-width="3.2"/>
<line x1="1333.5" y1="795.5" x2="1333.5" y2="785.5" stroke-width="3.2"/>
<line x1="1376.7" y1="60" x2="1376.7" y2="70" stroke-width="3.2"/>
<line x1="1376.7" y1="795.5" x2="1376.7" y2="785.5" stroke-width="3.2"/>
<line x1="1419.8" y1="60" x2="1419.8" y2="70" stroke-width="3.2"/>
<line x1="1419.8" y1="795.5" x2="1419.8" y2="785.5" stroke-width="3.2"/>
<line x1="1462.9" y1="60" x2="1462.9" y2="70" stroke-width="3.2"/>
<line x1="1462.9" y1="795.5" x2="1462.9" y2="785.5" stroke-width="3.2"/>
<line x1="1506.1" y1="60" x2="1506.1" y2="81" stroke-width="3.2"/>
<line x1="1506.1" y1="795.5" x2="1506.1" y2="774.5" stroke-width="3.2"/>
<line x1="1549.2" y1="60" x2="1549.2" y2="70" stroke-width="3.2"/>
<line x1="1549.2" y1="795.5" x2="1549.2" y2="785.5" stroke-width="3.2"/>
<line x1="1592.3" y1="60" x2="1592.3" y2="70" stroke-width="3.2"/>
<line x1="1592.3" y1="795.5" x2="1592.3" y2="785.5" stroke-width="3.2"/>
<line x1="1635.5" y1="60" x2="1635.5" y2="70" stroke-width="3.2"/>
<line x1="1635.5" y1="795.5" x2="1635.5" y2="785.5" stroke-width="3.2"/>
<line x1="1678.6" y1="60" x2="1678.6" y2="70" stroke-width="3.2"/>
<line x1="1678.6" y1="795.5" x2="1678.6" y2="785.5" stroke-width="3.2"/>
<line x1="1721.7" y1="60" x2="1721.7" y2="81" stroke-width="3.2"/>
<line x1="1721.7" y1="795.5" x2="1721.7" y2="774.5" stroke-width="3.2"/>
<line x1="1764.9" y1="60" x2="1764.9" y2="70" stroke-width="3.2"/>
<line x1="1764.9" y1="795.5" x2="1764.9" y2="785.5" stroke-width="3.2"/>
<line x1="1808.0" y1="60" x2="1808.0" y2="70" stroke-width="3.2"/>
<line x1="1808.0" y1="795.5" x2="1808.0" y2="785.5" stroke-width="3.2"/>
<line x1="1851.1" y1="60" x2="1851.1" y2="70" stroke-width="3.2"/>
<line x1="1851.1" y1="795.5" x2="1851.1" y2="785.5" stroke-width="3.2"/>
<line x1="1894.3" y1="60" x2="1894.3" y2="70" stroke-width="3.2"/>
<line x1="1894.3" y1="795.5" x2="1894.3" y2="785.5" stroke-width="3.2"/>
<line x1="1937.4" y1="60" x2="1937.4" y2="81" stroke-width="3.2"/>
<line x1="1937.4" y1="795.5" x2="1937.4" y2="774.5" stroke-width="3.2"/>
</g>
<text x="1039" y="91.5" font-size="57">b</text>
<text transform="translate(1290.4,861) scale(0.898,1)" font-size="58.8" text-anchor="middle">0.1</text>
<text transform="translate(1506.1,861) scale(0.898,1)" font-size="58.8" text-anchor="middle">0.2</text>
<text transform="translate(1721.7,861) scale(0.898,1)" font-size="58.8" text-anchor="middle">0.3</text>
<text transform="translate(1937.4,861) scale(0.898,1)" font-size="58.8" text-anchor="middle">0.4</text>
<text text-anchor="middle"><tspan x="1471.5" y="922.5" font-size="50.6">|</tspan><tspan x="1495.5" y="921.8" font-size="48">q</tspan><tspan x="1519" y="931" font-size="40">z</tspan><tspan x="1541.3" y="922.5" font-size="50.6">|</tspan><tspan x="1560.8" y="921" font-size="49">(</tspan><tspan x="1584.7" y="921.8" font-size="55">Å</tspan><tspan x="1607.2" y="884" font-size="36">-</tspan><tspan x="1622.5" y="883.3" font-size="35">1</tspan><tspan x="1639.6" y="921" font-size="49">)</tspan></text>
<line x1="1672" y1="111.8" x2="1737" y2="111.8" stroke="#333" stroke-width="2.7"/>
<circle cx="1705" cy="111.8" r="11" fill="none" stroke="#000" stroke-width="3"/>
<text x="1752" y="123.2" font-size="32" fill="#2a2a2a" textLength="208" lengthAdjust="spacingAndGlyphs">2 LSCO + 6 LCO</text>
<line x1="1672" y1="154.6" x2="1737" y2="154.6" stroke="#f00" stroke-width="2.7"/>
<rect x="1694" y="143.1" width="23" height="23" fill="none" stroke="#f00" stroke-width="3"/>
<text x="1752" y="166.0" font-size="32" fill="#2a2a2a" textLength="208" lengthAdjust="spacingAndGlyphs">3 LSCO + 5 LCO</text>
<line x1="1672" y1="196.6" x2="1737" y2="196.6" stroke="#00e5e5" stroke-width="2.7"/>
<path d="M1705 181.6 L1717.8 203.4 L1692.2 203.4 Z" fill="none" stroke="#00e5e5" stroke-width="3" stroke-linejoin="miter"/>
<text x="1752" y="208.0" font-size="32" fill="#2a2a2a" textLength="208" lengthAdjust="spacingAndGlyphs">4 LSCO + 4 LCO</text>
<line x1="1672" y1="238.7" x2="1737" y2="238.7" stroke="#00cc00" stroke-width="2.7"/>
<path d="M1705 223.2 L1719.5 238.7 L1705 254.2 L1690.5 238.7 Z" fill="none" stroke="#00cc00" stroke-width="3"/>
<text x="1752" y="250.1" font-size="32" fill="#2a2a2a" textLength="208" lengthAdjust="spacingAndGlyphs">5 LSCO + 3 LCO</text>
</svg>
</body></html>
